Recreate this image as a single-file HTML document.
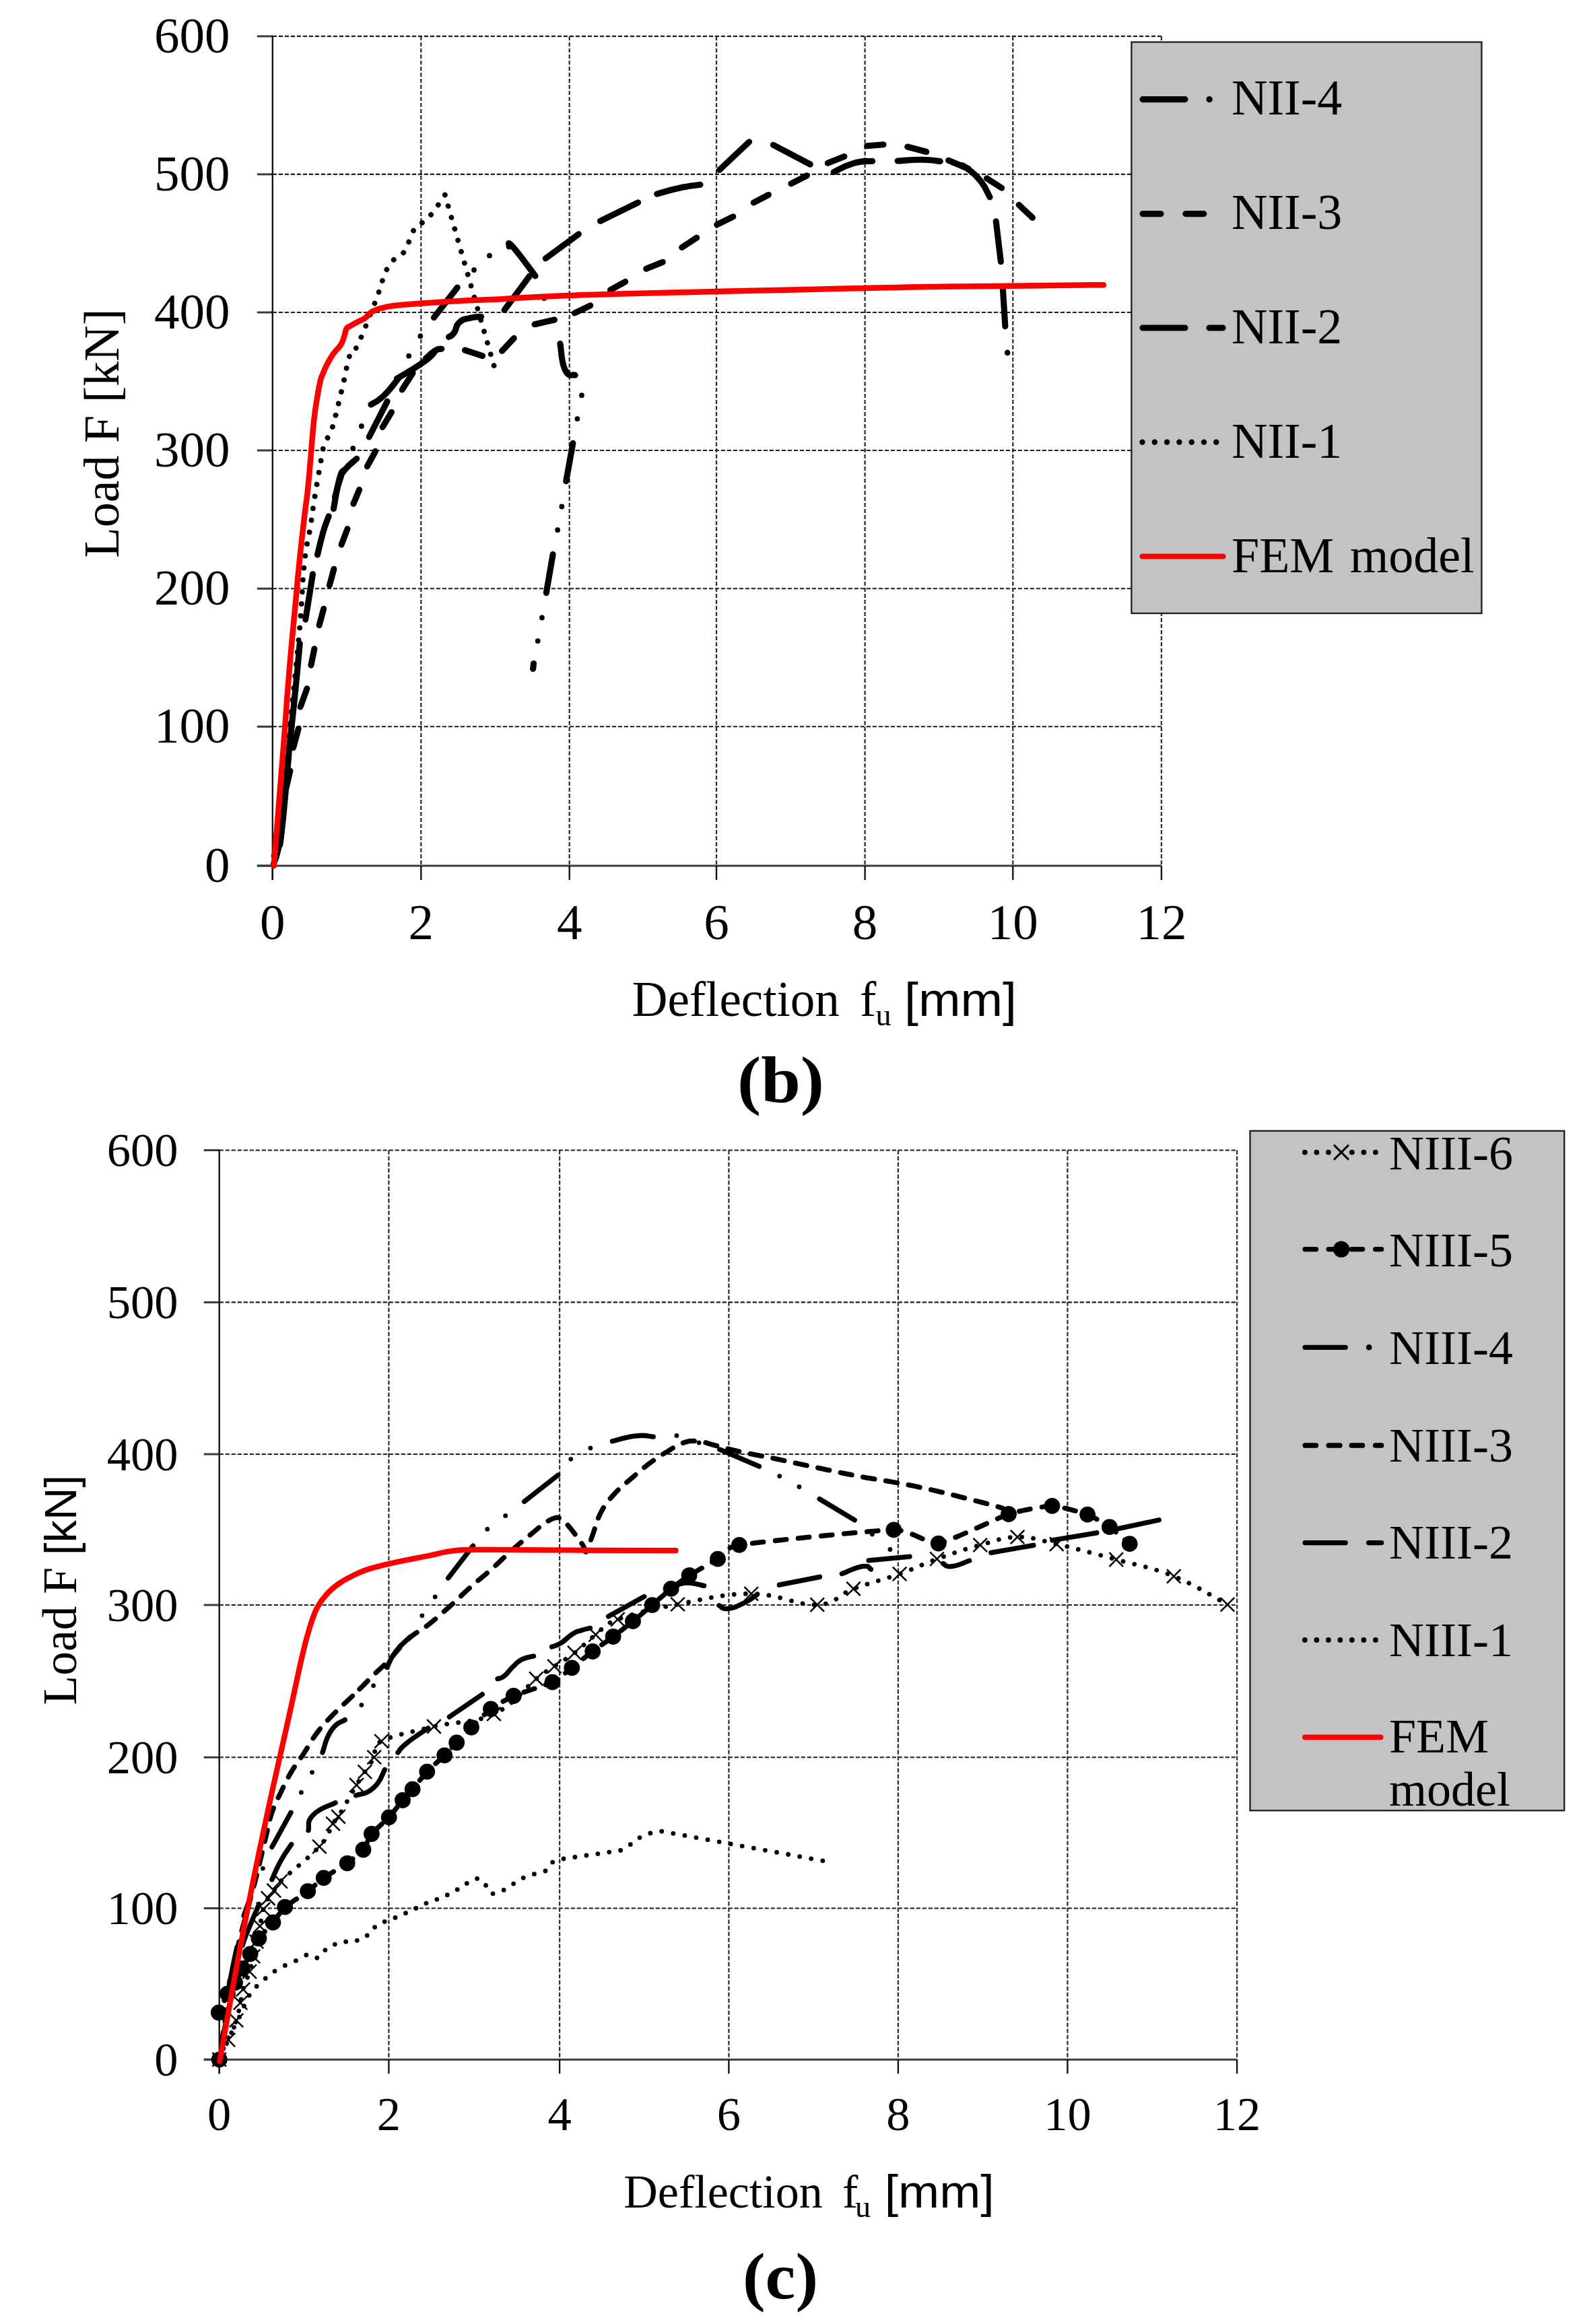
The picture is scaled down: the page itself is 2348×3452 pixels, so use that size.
<!DOCTYPE html>
<html lang="en">
<head>
<meta charset="utf-8">
<title>Load-deflection curves (b) NII and (c) NIII series</title>
<style>
html,body{margin:0;padding:0;background:#fff;}
body{width:2348px;height:3452px;overflow:hidden;}
svg{display:block;}
text{white-space:pre;}
</style>
</head>
<body>
<svg width="2348" height="3452" viewBox="0 0 2348 3452">
<rect x="0" y="0" width="2348" height="3452" fill="#ffffff"/>
<g id="chart-b">
<line x1="404.8" y1="53.9" x2="1724.9" y2="53.9" stroke="#1e1e1e" stroke-width="2.1" stroke-linecap="butt" stroke-dasharray="6.2 2.8"/>
<line x1="404.8" y1="258.9" x2="1724.9" y2="258.9" stroke="#1e1e1e" stroke-width="2.1" stroke-linecap="butt" stroke-dasharray="6.2 2.8"/>
<line x1="404.8" y1="464" x2="1724.9" y2="464" stroke="#1e1e1e" stroke-width="2.1" stroke-linecap="butt" stroke-dasharray="6.2 2.8"/>
<line x1="404.8" y1="669" x2="1724.9" y2="669" stroke="#1e1e1e" stroke-width="2.1" stroke-linecap="butt" stroke-dasharray="6.2 2.8"/>
<line x1="404.8" y1="874.3" x2="1724.9" y2="874.3" stroke="#1e1e1e" stroke-width="2.1" stroke-linecap="butt" stroke-dasharray="6.2 2.8"/>
<line x1="404.8" y1="1079.3" x2="1724.9" y2="1079.3" stroke="#1e1e1e" stroke-width="2.1" stroke-linecap="butt" stroke-dasharray="6.2 2.8"/>
<line x1="625.3" y1="53.9" x2="625.3" y2="1286" stroke="#303030" stroke-width="2.3" stroke-linecap="butt" stroke-dasharray="6.2 2.8"/>
<line x1="845.7" y1="53.9" x2="845.7" y2="1286" stroke="#303030" stroke-width="2.3" stroke-linecap="butt" stroke-dasharray="6.2 2.8"/>
<line x1="1064" y1="53.9" x2="1064" y2="1286" stroke="#303030" stroke-width="2.3" stroke-linecap="butt" stroke-dasharray="6.2 2.8"/>
<line x1="1284.6" y1="53.9" x2="1284.6" y2="1286" stroke="#303030" stroke-width="2.3" stroke-linecap="butt" stroke-dasharray="6.2 2.8"/>
<line x1="1504.3" y1="53.9" x2="1504.3" y2="1286" stroke="#303030" stroke-width="2.3" stroke-linecap="butt" stroke-dasharray="6.2 2.8"/>
<line x1="1724.9" y1="53.9" x2="1724.9" y2="1286" stroke="#303030" stroke-width="2.3" stroke-linecap="butt" stroke-dasharray="6.2 2.8"/>
<line x1="381.8" y1="53.9" x2="404.8" y2="53.9" stroke="#3a3a3a" stroke-width="3" stroke-linecap="butt"/>
<line x1="381.8" y1="258.9" x2="404.8" y2="258.9" stroke="#3a3a3a" stroke-width="3" stroke-linecap="butt"/>
<line x1="381.8" y1="464" x2="404.8" y2="464" stroke="#3a3a3a" stroke-width="3" stroke-linecap="butt"/>
<line x1="381.8" y1="669" x2="404.8" y2="669" stroke="#3a3a3a" stroke-width="3" stroke-linecap="butt"/>
<line x1="381.8" y1="874.3" x2="404.8" y2="874.3" stroke="#3a3a3a" stroke-width="3" stroke-linecap="butt"/>
<line x1="381.8" y1="1079.3" x2="404.8" y2="1079.3" stroke="#3a3a3a" stroke-width="3" stroke-linecap="butt"/>
<line x1="381.8" y1="1286" x2="404.8" y2="1286" stroke="#3a3a3a" stroke-width="3" stroke-linecap="butt"/>
<line x1="381.8" y1="1286" x2="1724.9" y2="1286" stroke="#3a3a3a" stroke-width="3" stroke-linecap="butt"/>
<line x1="404.8" y1="1286" x2="404.8" y2="1307" stroke="#111" stroke-width="2.4" stroke-linecap="butt"/>
<line x1="625.3" y1="1286" x2="625.3" y2="1307" stroke="#111" stroke-width="2.4" stroke-linecap="butt"/>
<line x1="845.7" y1="1286" x2="845.7" y2="1307" stroke="#111" stroke-width="2.4" stroke-linecap="butt"/>
<line x1="1064" y1="1286" x2="1064" y2="1307" stroke="#111" stroke-width="2.4" stroke-linecap="butt"/>
<line x1="1284.6" y1="1286" x2="1284.6" y2="1307" stroke="#111" stroke-width="2.4" stroke-linecap="butt"/>
<line x1="1504.3" y1="1286" x2="1504.3" y2="1307" stroke="#111" stroke-width="2.4" stroke-linecap="butt"/>
<line x1="1724.9" y1="1286" x2="1724.9" y2="1307" stroke="#111" stroke-width="2.4" stroke-linecap="butt"/>
<line x1="404.8" y1="52.9" x2="404.8" y2="1307" stroke="#111" stroke-width="2.4" stroke-linecap="butt"/>
<text x="341.5" y="77.5" font-family='"Liberation Serif", serif' font-size="75" font-weight="normal" text-anchor="end" fill="#000" >600</text>
<text x="341.5" y="282.5" font-family='"Liberation Serif", serif' font-size="75" font-weight="normal" text-anchor="end" fill="#000" >500</text>
<text x="341.5" y="487.6" font-family='"Liberation Serif", serif' font-size="75" font-weight="normal" text-anchor="end" fill="#000" >400</text>
<text x="341.5" y="692.6" font-family='"Liberation Serif", serif' font-size="75" font-weight="normal" text-anchor="end" fill="#000" >300</text>
<text x="341.5" y="897.9" font-family='"Liberation Serif", serif' font-size="75" font-weight="normal" text-anchor="end" fill="#000" >200</text>
<text x="341.5" y="1102.9" font-family='"Liberation Serif", serif' font-size="75" font-weight="normal" text-anchor="end" fill="#000" >100</text>
<text x="341.5" y="1309.6" font-family='"Liberation Serif", serif' font-size="75" font-weight="normal" text-anchor="end" fill="#000" >0</text>
<text x="404.8" y="1394.5" font-family='"Liberation Serif", serif' font-size="75" font-weight="normal" text-anchor="middle" fill="#000" >0</text>
<text x="625.3" y="1394.5" font-family='"Liberation Serif", serif' font-size="75" font-weight="normal" text-anchor="middle" fill="#000" >2</text>
<text x="845.7" y="1394.5" font-family='"Liberation Serif", serif' font-size="75" font-weight="normal" text-anchor="middle" fill="#000" >4</text>
<text x="1064" y="1394.5" font-family='"Liberation Serif", serif' font-size="75" font-weight="normal" text-anchor="middle" fill="#000" >6</text>
<text x="1284.6" y="1394.5" font-family='"Liberation Serif", serif' font-size="75" font-weight="normal" text-anchor="middle" fill="#000" >8</text>
<text x="1504.3" y="1394.5" font-family='"Liberation Serif", serif' font-size="75" font-weight="normal" text-anchor="middle" fill="#000" >10</text>
<text x="1724.9" y="1394.5" font-family='"Liberation Serif", serif' font-size="75" font-weight="normal" text-anchor="middle" fill="#000" >12</text>
<path d="M660.8 289.5 C656.8 295.2 647.5 309.8 640.9 318 C634.3 326.2 632.8 325.6 627.6 330.3 C622.4 335 620.1 333.1 614.7 341.7 C609.3 350.3 606.3 364.8 600.7 373.3 C595.1 381.8 591.6 379 586.5 384.1 C581.4 389.2 578.9 392.5 575.4 398.6 C571.9 404.7 572.3 404.7 568.8 414.4 C565.3 424.1 565.3 427.6 557.7 447.3 C550.1 467 538.4 497.4 530.9 513.1 C523.4 528.8 524.7 512.9 520.1 525.7 C515.5 538.5 513.1 556.5 508.1 577.3 C503.1 598.1 498.9 616 495.1 629.7 C491.3 643.4 491.9 639.6 489.1 645.9 C486.3 652.2 484 651.5 481.2 661.2 C478.4 670.9 477.9 677.3 474.9 694.5 C471.9 711.7 468.8 729.6 466 747.3 C463.2 765 463.8 765.1 461 782.8 C458.2 800.5 455.4 804.5 452.1 835.9 C448.8 867.3 448.9 890.8 444.5 939.6 C440.1 988.4 435.3 1031.9 430 1080 C424.7 1128.1 423 1138.8 418 1180 C413 1221.2 407.4 1264.8 404.8 1286" fill="none" stroke="#000" stroke-width="7.8" stroke-linecap="round" stroke-linejoin="round" stroke-dasharray="0.01 17.9" stroke-dashoffset="0"/>
<path d="M733.6 543.1 L660.8 289.5" fill="none" stroke="#000" stroke-width="7.8" stroke-linecap="round" stroke-linejoin="round" stroke-dasharray="0.01 17.6" stroke-dashoffset="0"/>
<path d="M413.3 1235.3 L418.7 1206.7" fill="none" stroke="#000" stroke-width="9.1" stroke-linecap="round" stroke-linejoin="round" />
<path d="M424.6 1171.9 L430.9 1145" fill="none" stroke="#000" stroke-width="9.1" stroke-linecap="round" stroke-linejoin="round" />
<path d="M435.6 1110.6 L443.2 1082.4" fill="none" stroke="#000" stroke-width="9.1" stroke-linecap="round" stroke-linejoin="round" />
<path d="M446.1 1050 L455.9 1022.9" fill="none" stroke="#000" stroke-width="9.1" stroke-linecap="round" stroke-linejoin="round" />
<path d="M461.9 988.1 L466.9 963.7" fill="none" stroke="#000" stroke-width="9.1" stroke-linecap="round" stroke-linejoin="round" />
<path d="M474.1 928.7 L480.7 904.2" fill="none" stroke="#000" stroke-width="9.1" stroke-linecap="round" stroke-linejoin="round" />
<path d="M489.3 869.6 L495.9 845.2" fill="none" stroke="#000" stroke-width="9.1" stroke-linecap="round" stroke-linejoin="round" />
<path d="M507.1 809 L516 785.6" fill="none" stroke="#000" stroke-width="9.1" stroke-linecap="round" stroke-linejoin="round" />
<path d="M524.9 748.3 L533.6 727.4" fill="none" stroke="#000" stroke-width="9.1" stroke-linecap="round" stroke-linejoin="round" />
<path d="M545.3 692.7 L557.6 670.4" fill="none" stroke="#000" stroke-width="9.1" stroke-linecap="round" stroke-linejoin="round" />
<path d="M568.1 634.5 L581.5 612.2" fill="none" stroke="#000" stroke-width="9.1" stroke-linecap="round" stroke-linejoin="round" />
<path d="M597.2 578.9 L613.1 554" fill="none" stroke="#000" stroke-width="9.1" stroke-linecap="round" stroke-linejoin="round" />
<path d="M632.2 532.8 C636.1 529.4 639.3 525.1 646 521 C652.7 516.9 653 519 655.8 518.2" fill="none" stroke="#000" stroke-width="9.1" stroke-linecap="round" stroke-linejoin="round" />
<path d="M690.5 520.1 L716.5 528.6" fill="none" stroke="#000" stroke-width="9.1" stroke-linecap="round" stroke-linejoin="round" />
<path d="M745.5 521.3 L763.3 502.4" fill="none" stroke="#000" stroke-width="9.1" stroke-linecap="round" stroke-linejoin="round" />
<path d="M794 481.8 L823.5 475" fill="none" stroke="#000" stroke-width="9.1" stroke-linecap="round" stroke-linejoin="round" />
<path d="M853.4 465 L876.8 453.8" fill="none" stroke="#000" stroke-width="9.1" stroke-linecap="round" stroke-linejoin="round" />
<path d="M906.4 430.8 L928.7 418.4" fill="none" stroke="#000" stroke-width="9.1" stroke-linecap="round" stroke-linejoin="round" />
<path d="M959.7 399.2 L984.3 389.3" fill="none" stroke="#000" stroke-width="9.1" stroke-linecap="round" stroke-linejoin="round" />
<path d="M1012.7 367.5 L1034.7 353.1" fill="none" stroke="#000" stroke-width="9.1" stroke-linecap="round" stroke-linejoin="round" />
<path d="M1064.8 333.7 L1088.8 321.8" fill="none" stroke="#000" stroke-width="9.1" stroke-linecap="round" stroke-linejoin="round" />
<path d="M1119.2 301 L1141.4 289.4" fill="none" stroke="#000" stroke-width="9.1" stroke-linecap="round" stroke-linejoin="round" />
<path d="M1174.9 272.7 L1198.3 260.9" fill="none" stroke="#000" stroke-width="9.1" stroke-linecap="round" stroke-linejoin="round" />
<path d="M1229.3 242.2 L1253.9 232.4" fill="none" stroke="#000" stroke-width="9.1" stroke-linecap="round" stroke-linejoin="round" />
<path d="M1287.6 216.8 L1312 214.7" fill="none" stroke="#000" stroke-width="9.1" stroke-linecap="round" stroke-linejoin="round" />
<path d="M1347.7 218 L1375.8 225.5" fill="none" stroke="#000" stroke-width="9.1" stroke-linecap="round" stroke-linejoin="round" />
<path d="M1408.6 238.2 L1438.4 250.8" fill="none" stroke="#000" stroke-width="9.1" stroke-linecap="round" stroke-linejoin="round" />
<path d="M1465.4 264.9 L1487.7 279.3" fill="none" stroke="#000" stroke-width="9.1" stroke-linecap="round" stroke-linejoin="round" />
<path d="M1513.2 304.3 L1533.4 323.4" fill="none" stroke="#000" stroke-width="9.1" stroke-linecap="round" stroke-linejoin="round" />
<path d="M406.5 1283 C408.3 1277 409.5 1277.3 413 1262 C416.5 1246.7 414.3 1271 419 1229 C423.7 1187 426.5 1146.3 429.5 1113.6" fill="none" stroke="#000" stroke-width="9.1" stroke-linecap="round" stroke-linejoin="round" />
<path d="M430 1108 C431.7 1092 432.8 1082.2 436 1051.6 C439.2 1021 438.6 1027.1 441.2 1000 C443.8 972.9 444.1 968.5 445.2 956" fill="none" stroke="#000" stroke-width="9.1" stroke-linecap="round" stroke-linejoin="round" />
<path d="M453.7 920.2 L464.5 852.8" fill="none" stroke="#000" stroke-width="9.1" stroke-linecap="round" stroke-linejoin="round" />
<path d="M471.5 824.1 C473.9 814.6 475.2 806.6 479.9 790.4 C484.6 774.2 485.9 773.5 488.2 766.8" fill="none" stroke="#000" stroke-width="9.1" stroke-linecap="round" stroke-linejoin="round" />
<path d="M497.5 738.3 C499.6 730.9 500.9 723.4 505 712 C509.1 700.6 505 706.7 512 698 C519 689.3 524.7 686 529.7 681.2" fill="none" stroke="#000" stroke-width="9.1" stroke-linecap="round" stroke-linejoin="round" />
<path d="M548.2 649 L575.1 596.2" fill="none" stroke="#000" stroke-width="9.1" stroke-linecap="round" stroke-linejoin="round" />
<path d="M589.5 562.1 C594.7 559.1 595.6 559.1 607.9 551.4 C620.2 543.7 622.3 542.8 632.8 535 C643.3 527.2 641.4 526.9 644.8 523.7" fill="none" stroke="#000" stroke-width="9.1" stroke-linecap="round" stroke-linejoin="round" />
<path d="M666.5 500.5 C668.8 498.7 670.1 500.2 674.6 494 C679.1 487.8 675.2 485 682.2 478.8 C689.2 472.6 690.1 474.6 699.3 472.2 C708.5 469.8 710.2 471 714.6 470.5" fill="none" stroke="#000" stroke-width="9.1" stroke-linecap="round" stroke-linejoin="round" />
<path d="M749.1 460.5 L786.3 410.2" fill="none" stroke="#000" stroke-width="9.1" stroke-linecap="round" stroke-linejoin="round" />
<path d="M810.2 383.8 L859.3 347.8" fill="none" stroke="#000" stroke-width="9.1" stroke-linecap="round" stroke-linejoin="round" />
<path d="M891.4 328.3 L947.6 300.8" fill="none" stroke="#000" stroke-width="9.1" stroke-linecap="round" stroke-linejoin="round" />
<path d="M975.7 288.1 C985.4 285.5 991.8 282.9 1010 279 C1028.2 275.1 1031.5 275.6 1040 274.3" fill="none" stroke="#000" stroke-width="9.1" stroke-linecap="round" stroke-linejoin="round" />
<path d="M1068.3 252.5 L1112.6 210.7" fill="none" stroke="#000" stroke-width="9.1" stroke-linecap="round" stroke-linejoin="round" />
<path d="M1148.3 215.3 L1203.3 244.1" fill="none" stroke="#000" stroke-width="9.1" stroke-linecap="round" stroke-linejoin="round" />
<path d="M1238.2 255.6 C1246.7 251.8 1251.9 246.9 1268.2 242.3 C1284.5 237.7 1287.8 240.1 1295.6 239.3" fill="none" stroke="#000" stroke-width="9.1" stroke-linecap="round" stroke-linejoin="round" />
<path d="M1333.1 239 C1343.4 238.5 1351.5 237.1 1369.4 237.3 C1387.3 237.5 1388.6 239 1396.3 239.6" fill="none" stroke="#000" stroke-width="9.1" stroke-linecap="round" stroke-linejoin="round" />
<path d="M1426.1 245.2 C1428.9 246.6 1427.4 243.2 1436 249.9 C1444.6 256.6 1446.7 256.8 1456.3 268.9 C1465.9 281 1466.1 285.9 1470 292.7" fill="none" stroke="#000" stroke-width="9.1" stroke-linecap="round" stroke-linejoin="round" />
<path d="M1479.2 328.8 L1486.4 388.7" fill="none" stroke="#000" stroke-width="9.1" stroke-linecap="round" stroke-linejoin="round" />
<path d="M1489.3 427.5 L1492.9 484.8" fill="none" stroke="#000" stroke-width="9.1" stroke-linecap="round" stroke-linejoin="round" />
<circle cx="1496.2" cy="523.9" r="4.3" fill="#000"/>
<path d="M495.4 755.8 C497.9 743.3 499.6 728.2 504 711.9 C508.4 695.6 508.9 702.1 510.8 698.3" fill="none" stroke="#000" stroke-width="9.1" stroke-linecap="round" stroke-linejoin="round" />
<path d="M550.9 600.9 C556.4 597.1 558.6 598.6 570.2 587.5 C581.8 576.4 585.7 569 591.9 561.7" fill="none" stroke="#000" stroke-width="9.1" stroke-linecap="round" stroke-linejoin="round" />
<path d="M644.4 471.7 L679.2 427.1" fill="none" stroke="#000" stroke-width="9.1" stroke-linecap="round" stroke-linejoin="round" />
<path d="M756.1 366.1 C757.8 366.3 751 354.6 762 367 C773 379.4 785.7 397.8 795 409.9" fill="none" stroke="#000" stroke-width="9.1" stroke-linecap="round" stroke-linejoin="round" />
<path d="M831.9 510.4 C834 521.4 832.9 535.9 839.2 549.2 C845.5 562.5 849.9 555 854.1 557.3" fill="none" stroke="#000" stroke-width="9.1" stroke-linecap="round" stroke-linejoin="round" />
<path d="M850.9 658.3 L840.7 714.7" fill="none" stroke="#000" stroke-width="9.1" stroke-linecap="round" stroke-linejoin="round" />
<path d="M821.1 823.4 L811.3 880.7" fill="none" stroke="#000" stroke-width="9.1" stroke-linecap="round" stroke-linejoin="round" />
<circle cx="524.2" cy="665.9" r="3.9" fill="#000"/>
<circle cx="536.9" cy="633" r="3.9" fill="#000"/>
<circle cx="607.2" cy="528.7" r="3.9" fill="#000"/>
<circle cx="624.3" cy="499.3" r="3.9" fill="#000"/>
<circle cx="704" cy="401" r="3.9" fill="#000"/>
<circle cx="727" cy="379.7" r="3.9" fill="#000"/>
<circle cx="808" cy="443" r="3.9" fill="#000"/>
<circle cx="820" cy="476" r="3.9" fill="#000"/>
<circle cx="863.9" cy="587.2" r="3.9" fill="#000"/>
<circle cx="857.4" cy="622.1" r="3.9" fill="#000"/>
<circle cx="834.3" cy="752.5" r="3.9" fill="#000"/>
<circle cx="828.1" cy="787.2" r="3.9" fill="#000"/>
<circle cx="804.9" cy="917.5" r="3.9" fill="#000"/>
<circle cx="798.7" cy="952.1" r="3.9" fill="#000"/>
<path d="M792.6 985.5 L791.6 993.5" fill="none" stroke="#000" stroke-width="9.1" stroke-linecap="round" stroke-linejoin="round" />
<path d="M406.8 1286 C410.8 1236.4 415.7 1176.3 421.7 1100 C427.7 1023.7 424.8 1053.3 429.3 1000 C433.8 946.7 434.2 945.8 438.5 900 C442.8 854.2 441.4 865.6 445.3 828.3 C449.2 791 449.9 786.2 453 760 C456.1 733.8 454.7 749.1 456.8 730 C458.9 710.9 458.8 709.7 460.7 688.2 C462.6 666.7 462.2 668.4 463.9 649.5 C465.6 630.6 465.2 632.7 467.1 617.2 C469 601.7 468.8 604.8 471 591.4 C473.2 578 473.1 576.9 475.5 566.9 C477.9 556.9 477.4 560.6 480 554 C482.6 547.4 482.1 548.5 485.2 542.3 C488.3 536.1 488.2 536.2 491.6 530.7 C495 525.2 494.3 526.5 498.1 521.7 C501.9 516.9 502.5 517.8 505.8 512.6 C509.1 507.4 508.3 508.1 510.4 502.3 C512.5 496.5 512.1 494.9 513.6 490.7 C515.1 486.5 514.3 488.2 516 486.5 C517.7 484.8 516.3 486.4 520.1 484.2 C523.9 482 524.6 481.5 530.4 478.4 C536.2 475.3 536.9 476.2 542 472.6 C547.1 469 545.2 468.2 549.7 464.9 C554.2 461.6 553.6 462.4 558.8 460.3 C564 458.2 562.9 458.6 569.1 457.1 C575.3 455.6 573.4 455.7 582 454.5 C590.6 453.3 590 453.6 601.4 452.6 C612.8 451.6 601 452.3 624.6 450.7 C648.2 449.1 662.3 448 689.8 446.5 C717.3 445 698.5 446.6 727.9 445.1 C757.3 443.6 759.4 442.9 800 441 C840.6 439.1 826.7 439.5 880 437.8 C933.3 436.1 914.7 436.7 1000 434.6 C1085.3 432.5 1093.3 432.3 1200 430 C1306.7 427.7 1282.9 427.6 1400 425.8 C1517.1 424 1575.3 423.9 1639 423.2" fill="none" stroke="#fe0000" stroke-width="8.5" stroke-linecap="round" stroke-linejoin="round"/>
<rect x="1680.4" y="62.5" width="520" height="848.5" fill="#c3c3c3" stroke="#1c1c1c" stroke-width="2.3"/>
<path d="M1697 147.6 L1760 147.6" fill="none" stroke="#000" stroke-width="9.1" stroke-linecap="round" stroke-linejoin="round" />
<circle cx="1796.1" cy="147.6" r="4.7" fill="#000"/>
<path d="M1697 317.6 L1724 317.6" fill="none" stroke="#000" stroke-width="9.1" stroke-linecap="round" stroke-linejoin="round" />
<path d="M1760.8 317.6 L1787.8 317.6" fill="none" stroke="#000" stroke-width="9.1" stroke-linecap="round" stroke-linejoin="round" />
<path d="M1697 487 L1760 487" fill="none" stroke="#000" stroke-width="9.1" stroke-linecap="round" stroke-linejoin="round" />
<path d="M1796 487 L1816 487" fill="none" stroke="#000" stroke-width="9.1" stroke-linecap="round" stroke-linejoin="round" />
<circle cx="1696.5" cy="656.7" r="4.2" fill="#000"/>
<circle cx="1714.8" cy="656.7" r="4.2" fill="#000"/>
<circle cx="1733.1" cy="656.7" r="4.2" fill="#000"/>
<circle cx="1751.4" cy="656.7" r="4.2" fill="#000"/>
<circle cx="1769.7" cy="656.7" r="4.2" fill="#000"/>
<circle cx="1788" cy="656.7" r="4.2" fill="#000"/>
<circle cx="1806.3" cy="656.7" r="4.2" fill="#000"/>
<path d="M1696.5 826.5 L1816.5 826.5" fill="none" stroke="#fe0000" stroke-width="8" stroke-linecap="round" stroke-linejoin="round" />
<text x="1829" y="170" font-family='"Liberation Serif", serif' font-size="74" font-weight="normal" text-anchor="start" fill="#000" word-spacing="5">NII-4</text>
<text x="1829" y="339.8" font-family='"Liberation Serif", serif' font-size="74" font-weight="normal" text-anchor="start" fill="#000" word-spacing="5">NII-3</text>
<text x="1829" y="510" font-family='"Liberation Serif", serif' font-size="74" font-weight="normal" text-anchor="start" fill="#000" word-spacing="5">NII-2</text>
<text x="1829" y="680" font-family='"Liberation Serif", serif' font-size="74" font-weight="normal" text-anchor="start" fill="#000" word-spacing="5">NII-1</text>
<text x="1829" y="850" font-family='"Liberation Serif", serif' font-size="74" font-weight="normal" text-anchor="start" fill="#000" word-spacing="5">FEM model</text>
<text transform="translate(176,828.5) rotate(-90)" font-family='"Liberation Serif", serif' font-size="74" fill="#000">Load F [kN]</text>
<text x="938.7" y="1508.6" font-family='"Liberation Serif", serif' font-size="73" font-weight="normal" text-anchor="start" fill="#000" >Deflection</text>
<text x="1277" y="1508.6" font-family='"Liberation Serif", serif' font-size="73" font-weight="normal" text-anchor="start" fill="#000" >f</text>
<text x="1300.5" y="1522.6" font-family='"Liberation Serif", serif' font-size="46" font-weight="normal" text-anchor="start" fill="#000" >u</text>
<text x="1343" y="1508.6" font-family='"Liberation Sans", sans-serif' font-size="71" font-weight="normal" text-anchor="start" fill="#000" textLength="167" lengthAdjust="spacingAndGlyphs">[mm]</text>
<text x="1095" y="1637" font-family='"Liberation Serif", serif' font-size="98" font-weight="bold" text-anchor="start" fill="#000" textLength="129" lengthAdjust="spacingAndGlyphs">(b)</text>
</g>
<g id="chart-c">
<line x1="325.7" y1="1708.5" x2="1837.1" y2="1708.5" stroke="#1e1e1e" stroke-width="2.1" stroke-linecap="butt" stroke-dasharray="6.2 2.8"/>
<line x1="325.7" y1="1934.4" x2="1837.1" y2="1934.4" stroke="#1e1e1e" stroke-width="2.1" stroke-linecap="butt" stroke-dasharray="6.2 2.8"/>
<line x1="325.7" y1="2160" x2="1837.1" y2="2160" stroke="#1e1e1e" stroke-width="2.1" stroke-linecap="butt" stroke-dasharray="6.2 2.8"/>
<line x1="325.7" y1="2384" x2="1837.1" y2="2384" stroke="#1e1e1e" stroke-width="2.1" stroke-linecap="butt" stroke-dasharray="6.2 2.8"/>
<line x1="325.7" y1="2610.3" x2="1837.1" y2="2610.3" stroke="#1e1e1e" stroke-width="2.1" stroke-linecap="butt" stroke-dasharray="6.2 2.8"/>
<line x1="325.7" y1="2834.5" x2="1837.1" y2="2834.5" stroke="#1e1e1e" stroke-width="2.1" stroke-linecap="butt" stroke-dasharray="6.2 2.8"/>
<line x1="577.4" y1="1708.5" x2="577.4" y2="3059.2" stroke="#303030" stroke-width="2.3" stroke-linecap="butt" stroke-dasharray="6.2 2.8"/>
<line x1="831.1" y1="1708.5" x2="831.1" y2="3059.2" stroke="#303030" stroke-width="2.3" stroke-linecap="butt" stroke-dasharray="6.2 2.8"/>
<line x1="1082.4" y1="1708.5" x2="1082.4" y2="3059.2" stroke="#303030" stroke-width="2.3" stroke-linecap="butt" stroke-dasharray="6.2 2.8"/>
<line x1="1333.9" y1="1708.5" x2="1333.9" y2="3059.2" stroke="#303030" stroke-width="2.3" stroke-linecap="butt" stroke-dasharray="6.2 2.8"/>
<line x1="1585.4" y1="1708.5" x2="1585.4" y2="3059.2" stroke="#303030" stroke-width="2.3" stroke-linecap="butt" stroke-dasharray="6.2 2.8"/>
<line x1="1837.1" y1="1708.5" x2="1837.1" y2="3059.2" stroke="#303030" stroke-width="2.3" stroke-linecap="butt" stroke-dasharray="6.2 2.8"/>
<line x1="302.7" y1="1708.5" x2="325.7" y2="1708.5" stroke="#3a3a3a" stroke-width="3" stroke-linecap="butt"/>
<line x1="302.7" y1="1934.4" x2="325.7" y2="1934.4" stroke="#3a3a3a" stroke-width="3" stroke-linecap="butt"/>
<line x1="302.7" y1="2160" x2="325.7" y2="2160" stroke="#3a3a3a" stroke-width="3" stroke-linecap="butt"/>
<line x1="302.7" y1="2384" x2="325.7" y2="2384" stroke="#3a3a3a" stroke-width="3" stroke-linecap="butt"/>
<line x1="302.7" y1="2610.3" x2="325.7" y2="2610.3" stroke="#3a3a3a" stroke-width="3" stroke-linecap="butt"/>
<line x1="302.7" y1="2834.5" x2="325.7" y2="2834.5" stroke="#3a3a3a" stroke-width="3" stroke-linecap="butt"/>
<line x1="302.7" y1="3059.2" x2="325.7" y2="3059.2" stroke="#3a3a3a" stroke-width="3" stroke-linecap="butt"/>
<line x1="302.7" y1="3059.2" x2="1837.1" y2="3059.2" stroke="#3a3a3a" stroke-width="3" stroke-linecap="butt"/>
<line x1="325.7" y1="3059.2" x2="325.7" y2="3080.2" stroke="#111" stroke-width="2.4" stroke-linecap="butt"/>
<line x1="577.4" y1="3059.2" x2="577.4" y2="3080.2" stroke="#111" stroke-width="2.4" stroke-linecap="butt"/>
<line x1="831.1" y1="3059.2" x2="831.1" y2="3080.2" stroke="#111" stroke-width="2.4" stroke-linecap="butt"/>
<line x1="1082.4" y1="3059.2" x2="1082.4" y2="3080.2" stroke="#111" stroke-width="2.4" stroke-linecap="butt"/>
<line x1="1333.9" y1="3059.2" x2="1333.9" y2="3080.2" stroke="#111" stroke-width="2.4" stroke-linecap="butt"/>
<line x1="1585.4" y1="3059.2" x2="1585.4" y2="3080.2" stroke="#111" stroke-width="2.4" stroke-linecap="butt"/>
<line x1="1837.1" y1="3059.2" x2="1837.1" y2="3080.2" stroke="#111" stroke-width="2.4" stroke-linecap="butt"/>
<line x1="325.7" y1="1707.5" x2="325.7" y2="3080.2" stroke="#111" stroke-width="2.4" stroke-linecap="butt"/>
<text x="264.5" y="1732.1" font-family='"Liberation Serif", serif' font-size="70.5" font-weight="normal" text-anchor="end" fill="#000" >600</text>
<text x="264.5" y="1958" font-family='"Liberation Serif", serif' font-size="70.5" font-weight="normal" text-anchor="end" fill="#000" >500</text>
<text x="264.5" y="2183.6" font-family='"Liberation Serif", serif' font-size="70.5" font-weight="normal" text-anchor="end" fill="#000" >400</text>
<text x="264.5" y="2407.6" font-family='"Liberation Serif", serif' font-size="70.5" font-weight="normal" text-anchor="end" fill="#000" >300</text>
<text x="264.5" y="2633.9" font-family='"Liberation Serif", serif' font-size="70.5" font-weight="normal" text-anchor="end" fill="#000" >200</text>
<text x="264.5" y="2858.1" font-family='"Liberation Serif", serif' font-size="70.5" font-weight="normal" text-anchor="end" fill="#000" >100</text>
<text x="264.5" y="3082.8" font-family='"Liberation Serif", serif' font-size="70.5" font-weight="normal" text-anchor="end" fill="#000" >0</text>
<text x="325.7" y="3164.3" font-family='"Liberation Serif", serif' font-size="70.5" font-weight="normal" text-anchor="middle" fill="#000" >0</text>
<text x="577.4" y="3164.3" font-family='"Liberation Serif", serif' font-size="70.5" font-weight="normal" text-anchor="middle" fill="#000" >2</text>
<text x="831.1" y="3164.3" font-family='"Liberation Serif", serif' font-size="70.5" font-weight="normal" text-anchor="middle" fill="#000" >4</text>
<text x="1082.4" y="3164.3" font-family='"Liberation Serif", serif' font-size="70.5" font-weight="normal" text-anchor="middle" fill="#000" >6</text>
<text x="1333.9" y="3164.3" font-family='"Liberation Serif", serif' font-size="70.5" font-weight="normal" text-anchor="middle" fill="#000" >8</text>
<text x="1585.4" y="3164.3" font-family='"Liberation Serif", serif' font-size="70.5" font-weight="normal" text-anchor="middle" fill="#000" >10</text>
<text x="1837.1" y="3164.3" font-family='"Liberation Serif", serif' font-size="70.5" font-weight="normal" text-anchor="middle" fill="#000" >12</text>
<circle cx="325.7" cy="3059.2" r="3.4" fill="#000"/>
<circle cx="332" cy="3042.8" r="3.4" fill="#000"/>
<circle cx="338.9" cy="3026.7" r="3.4" fill="#000"/>
<circle cx="347.4" cy="3011.3" r="3.4" fill="#000"/>
<circle cx="355.6" cy="2995.9" r="3.4" fill="#000"/>
<circle cx="362.4" cy="2979.7" r="3.4" fill="#000"/>
<circle cx="370.1" cy="2963.9" r="3.4" fill="#000"/>
<circle cx="381.1" cy="2950.4" r="3.4" fill="#000"/>
<circle cx="394.2" cy="2938.7" r="3.4" fill="#000"/>
<circle cx="408" cy="2927.9" r="3.4" fill="#000"/>
<circle cx="423.3" cy="2919.4" r="3.4" fill="#000"/>
<circle cx="439.4" cy="2912.4" r="3.4" fill="#000"/>
<circle cx="454.8" cy="2903.9" r="3.4" fill="#000"/>
<circle cx="470.8" cy="2908.2" r="3.4" fill="#000"/>
<circle cx="482.9" cy="2896.6" r="3.4" fill="#000"/>
<circle cx="497.3" cy="2888.1" r="3.4" fill="#000"/>
<circle cx="513.7" cy="2884.2" r="3.4" fill="#000"/>
<circle cx="530.3" cy="2882.3" r="3.4" fill="#000"/>
<circle cx="545.2" cy="2874.9" r="3.4" fill="#000"/>
<circle cx="556.6" cy="2862.6" r="3.4" fill="#000"/>
<circle cx="571.2" cy="2854.3" r="3.4" fill="#000"/>
<circle cx="587" cy="2848.4" r="3.4" fill="#000"/>
<circle cx="602.5" cy="2841.7" r="3.4" fill="#000"/>
<circle cx="617.8" cy="2834.5" r="3.4" fill="#000"/>
<circle cx="633" cy="2827.1" r="3.4" fill="#000"/>
<circle cx="648.8" cy="2821.3" r="3.4" fill="#000"/>
<circle cx="664.3" cy="2814.7" r="3.4" fill="#000"/>
<circle cx="679.2" cy="2806.7" r="3.4" fill="#000"/>
<circle cx="693.3" cy="2797.5" r="3.4" fill="#000"/>
<circle cx="708.6" cy="2790.4" r="3.4" fill="#000"/>
<circle cx="721.5" cy="2800.4" r="3.4" fill="#000"/>
<circle cx="732" cy="2812.8" r="3.4" fill="#000"/>
<circle cx="748.2" cy="2807.4" r="3.4" fill="#000"/>
<circle cx="762.6" cy="2798.1" r="3.4" fill="#000"/>
<circle cx="777.2" cy="2789.3" r="3.4" fill="#000"/>
<circle cx="793.4" cy="2783.7" r="3.4" fill="#000"/>
<circle cx="809.9" cy="2779" r="3.4" fill="#000"/>
<circle cx="820.7" cy="2766.1" r="3.4" fill="#000"/>
<circle cx="837" cy="2761" r="3.4" fill="#000"/>
<circle cx="853.9" cy="2758.5" r="3.4" fill="#000"/>
<circle cx="870.9" cy="2756" r="3.4" fill="#000"/>
<circle cx="887.8" cy="2753.6" r="3.4" fill="#000"/>
<circle cx="904.7" cy="2751.1" r="3.4" fill="#000"/>
<circle cx="921.6" cy="2748.5" r="3.4" fill="#000"/>
<circle cx="936.3" cy="2739.7" r="3.4" fill="#000"/>
<circle cx="950" cy="2729.6" r="3.4" fill="#000"/>
<circle cx="965.8" cy="2722.9" r="3.4" fill="#000"/>
<circle cx="982.7" cy="2720.2" r="3.4" fill="#000"/>
<circle cx="999.8" cy="2723.3" r="3.4" fill="#000"/>
<circle cx="1016.9" cy="2726.4" r="3.4" fill="#000"/>
<circle cx="1033.9" cy="2729.6" r="3.4" fill="#000"/>
<circle cx="1051" cy="2732.7" r="3.4" fill="#000"/>
<circle cx="1068.1" cy="2735.8" r="3.4" fill="#000"/>
<circle cx="1085.2" cy="2738.9" r="3.4" fill="#000"/>
<circle cx="1102.2" cy="2742.1" r="3.4" fill="#000"/>
<circle cx="1119.3" cy="2745.2" r="3.4" fill="#000"/>
<circle cx="1136.4" cy="2748.3" r="3.4" fill="#000"/>
<circle cx="1153.5" cy="2751.4" r="3.4" fill="#000"/>
<circle cx="1170.6" cy="2754.5" r="3.4" fill="#000"/>
<circle cx="1187.6" cy="2757.7" r="3.4" fill="#000"/>
<circle cx="1204.7" cy="2760.8" r="3.4" fill="#000"/>
<circle cx="1221.8" cy="2763.9" r="3.4" fill="#000"/>
<polyline points="326.2,3055.6 326.5,3053.7 326.6,3052.7" fill="none" stroke="#000" stroke-width="7.3" stroke-linecap="round" stroke-linejoin="round"/>
<polyline points="329.1,3036 329.6,3032.1 330.8,3023.7 331.5,3018.9" fill="none" stroke="#000" stroke-width="7.3" stroke-linecap="round" stroke-linejoin="round"/>
<polyline points="334,3002.2 334.8,2996.3 336.3,2986.9 336.5,2985.1" fill="none" stroke="#000" stroke-width="7.3" stroke-linecap="round" stroke-linejoin="round"/>
<polyline points="339.1,2968.4 340.5,2960 341.8,2952 342,2951.3" fill="none" stroke="#000" stroke-width="7.3" stroke-linecap="round" stroke-linejoin="round"/>
<polyline points="344.9,2934.6 345.3,2931.9 346.4,2926.2 347.4,2920.9 348,2917.6" fill="none" stroke="#000" stroke-width="7.3" stroke-linecap="round" stroke-linejoin="round"/>
<polyline points="351.4,2901.1 352.4,2896.2 353.5,2891 354.5,2886.1 355,2884.2" fill="none" stroke="#000" stroke-width="7.3" stroke-linecap="round" stroke-linejoin="round"/>
<polyline points="359,2867.7 359.2,2867.1 359.9,2864.4 360.8,2861.3 361.8,2857.6 363,2853 363.5,2851" fill="none" stroke="#000" stroke-width="7.3" stroke-linecap="round" stroke-linejoin="round"/>
<polyline points="367.9,2834.7 368.3,2833.3 369.7,2828.4 371.1,2823.4 372.5,2818.3 372.5,2818.1" fill="none" stroke="#000" stroke-width="7.3" stroke-linecap="round" stroke-linejoin="round"/>
<polyline points="376.9,2801.7 378.4,2796.2 380,2790 381.3,2785" fill="none" stroke="#000" stroke-width="7.3" stroke-linecap="round" stroke-linejoin="round"/>
<polyline points="385.3,2768.6 385.7,2766.8 387,2761.4 388.2,2756.3 389.3,2751.8" fill="none" stroke="#000" stroke-width="7.3" stroke-linecap="round" stroke-linejoin="round"/>
<polyline points="393.2,2735.3 394,2731.7 395.2,2726.9 396.3,2722.4 397.2,2718.5 397.2,2718.5" fill="none" stroke="#000" stroke-width="7.3" stroke-linecap="round" stroke-linejoin="round"/>
<polyline points="400.9,2702 401.2,2700.8 401.9,2698.5 402.7,2695.8 403.7,2692.8 404.8,2689.7 405.8,2686.9 406.3,2685.6" fill="none" stroke="#000" stroke-width="7.3" stroke-linecap="round" stroke-linejoin="round"/>
<polyline points="413.2,2670.2 414.3,2668 415.6,2665.3 417,2662.4 418.4,2659.4 419.8,2656.6 420.7,2654.6" fill="none" stroke="#000" stroke-width="7.3" stroke-linecap="round" stroke-linejoin="round"/>
<polyline points="428.3,2639.5 428.5,2639.1 429.9,2636.6 431.5,2633.9 433.1,2631.1 434.8,2628.4 436.3,2625.9 437.2,2624.6" fill="none" stroke="#000" stroke-width="7.3" stroke-linecap="round" stroke-linejoin="round"/>
<polyline points="446.9,2610.8 447.8,2609.5 449.5,2607.1 451.2,2604.5 452.9,2601.8 454.5,2599.3 455.9,2597 456.3,2596.3" fill="none" stroke="#000" stroke-width="7.3" stroke-linecap="round" stroke-linejoin="round"/>
<polyline points="465.1,2581.9 465.5,2581.3 467.3,2578.8 469.2,2576.1 471.1,2573.5 472.9,2571.2 474.6,2569 475.4,2567.9" fill="none" stroke="#000" stroke-width="7.3" stroke-linecap="round" stroke-linejoin="round"/>
<polyline points="486.5,2555.2 486.8,2555 489.2,2552.4 492,2549.5 494.9,2546.5 497.9,2543.6 498.6,2542.8" fill="none" stroke="#000" stroke-width="7.3" stroke-linecap="round" stroke-linejoin="round"/>
<polyline points="510.8,2531.2 512.5,2529.6 515.5,2526.8 518.6,2523.9 521.6,2521 523.4,2519.3" fill="none" stroke="#000" stroke-width="7.3" stroke-linecap="round" stroke-linejoin="round"/>
<polyline points="534,2509 536.6,2506.4 539,2504 541.3,2501.6 543.5,2499.4 545.7,2497.2 546.2,2496.7" fill="none" stroke="#000" stroke-width="7.3" stroke-linecap="round" stroke-linejoin="round"/>
<polyline points="558.1,2484.8 559.1,2483.9 561.1,2482 562.9,2480.3 564.4,2478.9 565.9,2477.6 567.3,2476.3 568.6,2475.1 570.1,2473.7 570.8,2473" fill="none" stroke="#000" stroke-width="7.3" stroke-linecap="round" stroke-linejoin="round"/>
<polyline points="582.5,2460.8 584.4,2458.6 586.5,2456 588.7,2453.4 590.8,2450.9 593,2448.3 593.6,2447.5" fill="none" stroke="#000" stroke-width="7.3" stroke-linecap="round" stroke-linejoin="round"/>
<polyline points="605.3,2435.4 605.5,2435.2 608.3,2432.7 611,2430.6 613.6,2428.6 616,2426.9 618.4,2425.3 619.1,2424.9" fill="none" stroke="#000" stroke-width="7.3" stroke-linecap="round" stroke-linejoin="round"/>
<polyline points="633.2,2415.6 633.5,2415.4 636.5,2413.1 639.5,2410.7 642.2,2408.5 644.8,2406.4 646.7,2404.8" fill="none" stroke="#000" stroke-width="7.3" stroke-linecap="round" stroke-linejoin="round"/>
<polyline points="659.4,2393.7 661.8,2391.6 664.5,2389.2 667.5,2386.5 670.5,2383.8 672.3,2382.2" fill="none" stroke="#000" stroke-width="7.3" stroke-linecap="round" stroke-linejoin="round"/>
<polyline points="684.6,2370.6 685.3,2369.9 687.7,2367.6 690.2,2365.3 692.8,2362.9 695.5,2360.4 697.3,2358.8" fill="none" stroke="#000" stroke-width="7.3" stroke-linecap="round" stroke-linejoin="round"/>
<polyline points="710,2347.7 711.7,2346.4 714,2344.4 716.3,2342.5 718.7,2340.5 721.2,2338.5 723.3,2336.6" fill="none" stroke="#000" stroke-width="7.3" stroke-linecap="round" stroke-linejoin="round"/>
<polyline points="735.9,2325.4 738,2323.5 740.5,2321.1 742.9,2318.8 745.3,2316.5 747.7,2314.2 748.5,2313.5" fill="none" stroke="#000" stroke-width="7.3" stroke-linecap="round" stroke-linejoin="round"/>
<polyline points="760.9,2302 763.3,2300 765.8,2297.8 768.1,2295.8 770.3,2293.9 772.4,2292.1 774,2290.8" fill="none" stroke="#000" stroke-width="7.3" stroke-linecap="round" stroke-linejoin="round"/>
<polyline points="787.1,2280.1 789.3,2278.3 791.5,2276.5 793.5,2274.8 795.4,2273.2 797.2,2271.7 798.9,2270.3 800.4,2269" fill="none" stroke="#000" stroke-width="7.3" stroke-linecap="round" stroke-linejoin="round"/>
<polyline points="814.2,2259.2 815.5,2258.4 816.8,2257.7 818,2257.1 819.1,2256.5 820.2,2256 821.3,2255.6 822.4,2255.2 823.5,2254.9 824.7,2254.6 825.8,2254.3 826.7,2254.2 827.4,2254 828.1,2254 828.6,2254.1 829.1,2254.2 829.6,2254.4 830.1,2254.6 830.3,2254.7" fill="none" stroke="#000" stroke-width="7.3" stroke-linecap="round" stroke-linejoin="round"/>
<polyline points="843.2,2265.4 844.6,2267 846.2,2268.9 847.9,2271 849.6,2273.2 851.4,2275.5 853.1,2277.8 854,2278.9" fill="none" stroke="#000" stroke-width="7.3" stroke-linecap="round" stroke-linejoin="round"/>
<polyline points="863.9,2292.6 864.5,2293.5 865.7,2295.3 866.6,2297.1 867.4,2298.8 867.9,2300.3 868.3,2301.7 868.7,2302.9 869,2303.8 869.3,2304.6 869.6,2305 870,2305.2 870.5,2305.1 871.2,2304.6 871.9,2303.8 872.3,2303.3" fill="none" stroke="#000" stroke-width="7.3" stroke-linecap="round" stroke-linejoin="round"/>
<polyline points="877.6,2287.3 878,2286 879,2283.1 880,2280.2 881.1,2277.2 882.1,2274.3 883,2271.4 883.2,2270.9" fill="none" stroke="#000" stroke-width="7.3" stroke-linecap="round" stroke-linejoin="round"/>
<polyline points="888.6,2254.9 889,2253.9 890.3,2250.9 891.7,2247.9 893.3,2244.8 894.9,2241.9 896.3,2239.4" fill="none" stroke="#000" stroke-width="7.3" stroke-linecap="round" stroke-linejoin="round"/>
<polyline points="906.3,2225.8 907.3,2224.7 909.1,2222.7 911.1,2220.5 913.2,2218.2 915.3,2215.9 917.4,2213.8 918.1,2213.1" fill="none" stroke="#000" stroke-width="7.3" stroke-linecap="round" stroke-linejoin="round"/>
<polyline points="930.7,2201.9 930.7,2201.9 932.9,2200.1 935.2,2198.2 937.6,2196.1 940.1,2194 942.4,2191.9 943.8,2190.7" fill="none" stroke="#000" stroke-width="7.3" stroke-linecap="round" stroke-linejoin="round"/>
<polyline points="956.7,2179.7 956.9,2179.6 959.2,2177.8 961.5,2175.9 964.1,2174 966.7,2172.1 969,2170.4 970.5,2169.3" fill="none" stroke="#000" stroke-width="7.3" stroke-linecap="round" stroke-linejoin="round"/>
<polyline points="984.6,2160 985.9,2159.2 988.2,2157.8 990.7,2156.3 993.1,2154.8 995.4,2153.4 997.5,2152 999.3,2150.9" fill="none" stroke="#000" stroke-width="7.3" stroke-linecap="round" stroke-linejoin="round"/>
<polyline points="1014.4,2143.3 1015.1,2143 1017.3,2142.3 1019.3,2141.7 1021.1,2141.2 1022.8,2140.9 1024.5,2140.6 1026,2140.4 1027.6,2140.3 1029.3,2140.3 1031,2140.3 1031.3,2140.4" fill="none" stroke="#000" stroke-width="7.3" stroke-linecap="round" stroke-linejoin="round"/>
<polyline points="1048,2142.8 1049.6,2143.3 1051.5,2143.9 1053.6,2144.5 1055.8,2145.2 1058.2,2145.9 1060.9,2146.6 1063.8,2147.4 1064.6,2147.6" fill="none" stroke="#000" stroke-width="7.3" stroke-linecap="round" stroke-linejoin="round"/>
<polyline points="1080.9,2151.9 1082.5,2152.3 1085.3,2153 1088.3,2153.8 1091.6,2154.6 1095.2,2155.4 1097.7,2156" fill="none" stroke="#000" stroke-width="7.3" stroke-linecap="round" stroke-linejoin="round"/>
<polyline points="1114.3,2159.4 1114.4,2159.4 1117.9,2160.1 1121.6,2160.8 1125.3,2161.5 1129.2,2162.3 1131.3,2162.7" fill="none" stroke="#000" stroke-width="7.3" stroke-linecap="round" stroke-linejoin="round"/>
<polyline points="1147.9,2166 1147.9,2166 1153.3,2167.1 1158.4,2168.2 1163.3,2169.3 1164.8,2169.6" fill="none" stroke="#000" stroke-width="7.3" stroke-linecap="round" stroke-linejoin="round"/>
<polyline points="1181.3,2173.2 1182.4,2173.4 1187.3,2174.5 1192.5,2175.6 1197.9,2176.8 1198.2,2176.8" fill="none" stroke="#000" stroke-width="7.3" stroke-linecap="round" stroke-linejoin="round"/>
<polyline points="1214.7,2180.3 1216.1,2180.6 1222,2181.9 1227.6,2183.1 1231.7,2183.9" fill="none" stroke="#000" stroke-width="7.3" stroke-linecap="round" stroke-linejoin="round"/>
<polyline points="1248.2,2187.4 1248.6,2187.5 1253.8,2188.6 1259.1,2189.6 1264.6,2190.7 1265.1,2190.8" fill="none" stroke="#000" stroke-width="7.3" stroke-linecap="round" stroke-linejoin="round"/>
<polyline points="1281.7,2194 1282.2,2194.1 1287.6,2195.1 1292.6,2195.9 1297.3,2196.7 1298.8,2196.9" fill="none" stroke="#000" stroke-width="7.3" stroke-linecap="round" stroke-linejoin="round"/>
<polyline points="1315.5,2199.6 1319,2200.2 1323.7,2201 1328.6,2201.8 1332.5,2202.5" fill="none" stroke="#000" stroke-width="7.3" stroke-linecap="round" stroke-linejoin="round"/>
<polyline points="1349.1,2205.7 1352.8,2206.4 1356.8,2207.2 1360.8,2208 1364.7,2208.9 1366.1,2209.2" fill="none" stroke="#000" stroke-width="7.3" stroke-linecap="round" stroke-linejoin="round"/>
<polyline points="1382.6,2212.8 1387,2213.8 1392.1,2215 1396.9,2216.1 1399.4,2216.7" fill="none" stroke="#000" stroke-width="7.3" stroke-linecap="round" stroke-linejoin="round"/>
<polyline points="1415.8,2220.8 1418,2221.3 1422.1,2222.4 1426.3,2223.5 1430.7,2224.6 1432.6,2225.1" fill="none" stroke="#000" stroke-width="7.3" stroke-linecap="round" stroke-linejoin="round"/>
<polyline points="1449,2229.3 1450.1,2229.6 1454.8,2230.8 1459.3,2231.9 1463.7,2233 1465.7,2233.6" fill="none" stroke="#000" stroke-width="7.3" stroke-linecap="round" stroke-linejoin="round"/>
<polyline points="1482,2238.1 1482.7,2238.3 1485.9,2239.3 1488.9,2240.4 1491.5,2241.5 1493.4,2242.4 1494.9,2243.3 1495.9,2244.2 1496.6,2245 1496.9,2245.5" fill="none" stroke="#000" stroke-width="7.3" stroke-linecap="round" stroke-linejoin="round"/>
<path d="M338.1 2961.5 C340 2951.2 341.1 2944.6 345 2925 C348.9 2905.4 349.9 2901.7 351.9 2892.5" fill="none" stroke="#000" stroke-width="7.3" stroke-linecap="round" stroke-linejoin="round" />
<path d="M362.2 2845.5 L371.8 2818.5" fill="none" stroke="#000" stroke-width="7.3" stroke-linecap="round" stroke-linejoin="round" />
<path d="M403.9 2743.6 L432 2692.2" fill="none" stroke="#000" stroke-width="7.3" stroke-linecap="round" stroke-linejoin="round" />
<path d="M478.9 2603.1 C482.6 2593.9 482.5 2584.2 492 2570.4 C501.5 2556.6 506.6 2559 512.4 2554.5" fill="none" stroke="#000" stroke-width="7.3" stroke-linecap="round" stroke-linejoin="round" />
<path d="M574.7 2476.8 C578.4 2470 577.9 2465.8 587.8 2452.9 C597.7 2440 603.4 2437.3 609.5 2431.2" fill="none" stroke="#000" stroke-width="7.3" stroke-linecap="round" stroke-linejoin="round" />
<path d="M665.6 2344 L702.6 2296.1" fill="none" stroke="#000" stroke-width="7.3" stroke-linecap="round" stroke-linejoin="round" />
<path d="M778.6 2230.3 L828.7 2191.1" fill="none" stroke="#000" stroke-width="7.3" stroke-linecap="round" stroke-linejoin="round" />
<path d="M909.4 2140.7 C919.3 2138.5 927 2134.7 944.3 2132.8 C961.6 2130.9 962.9 2133.7 970.3 2134.1" fill="none" stroke="#000" stroke-width="7.3" stroke-linecap="round" stroke-linejoin="round" />
<path d="M1068.7 2152.9 L1127.5 2178.2" fill="none" stroke="#000" stroke-width="7.3" stroke-linecap="round" stroke-linejoin="round" />
<path d="M1217 2226.5 L1269.3 2257.8" fill="none" stroke="#000" stroke-width="7.3" stroke-linecap="round" stroke-linejoin="round" />
<circle cx="390.4" cy="2775.3" r="3.4" fill="#000"/>
<circle cx="447.4" cy="2662.4" r="3.4" fill="#000"/>
<circle cx="463.5" cy="2632.6" r="3.4" fill="#000"/>
<circle cx="536.9" cy="2532.6" r="3.4" fill="#000"/>
<circle cx="554.6" cy="2503.8" r="3.4" fill="#000"/>
<circle cx="626.8" cy="2399.8" r="3.4" fill="#000"/>
<circle cx="646.2" cy="2371.9" r="3.4" fill="#000"/>
<circle cx="723.7" cy="2271.4" r="3.4" fill="#000"/>
<circle cx="750.7" cy="2251.4" r="3.4" fill="#000"/>
<circle cx="847.7" cy="2167.3" r="3.4" fill="#000"/>
<circle cx="876.9" cy="2150.9" r="3.4" fill="#000"/>
<circle cx="1004.9" cy="2132.4" r="3.4" fill="#000"/>
<circle cx="1038.1" cy="2143" r="3.4" fill="#000"/>
<circle cx="1157.7" cy="2192.6" r="3.4" fill="#000"/>
<circle cx="1186.9" cy="2208.5" r="3.4" fill="#000"/>
<circle cx="1295.4" cy="2278.9" r="3.4" fill="#000"/>
<circle cx="1321.9" cy="2301.5" r="3.4" fill="#000"/>
<path d="M330.1 3029.5 L351.9 2925.5" fill="none" stroke="#000" stroke-width="7.3" stroke-linecap="round" stroke-linejoin="round" />
<path d="M360.2 2889.5 C362.4 2883.4 361 2885.3 368 2868 C375 2850.7 380 2839.7 384.8 2828.5" fill="none" stroke="#000" stroke-width="7.3" stroke-linecap="round" stroke-linejoin="round" />
<path d="M403.9 2791.9 C407.6 2784 408.8 2778.7 417 2763.9 C425.2 2749.1 428.3 2746.5 432.8 2739.6" fill="none" stroke="#000" stroke-width="7.3" stroke-linecap="round" stroke-linejoin="round" />
<path d="M458 2718.8 C460.1 2712.2 454 2707.2 465.4 2695.6 C476.8 2684 488.9 2682.9 498.2 2677.8" fill="none" stroke="#000" stroke-width="7.3" stroke-linecap="round" stroke-linejoin="round" />
<path d="M528.5 2666.9 C535.9 2663.7 542.4 2666.5 554.6 2655.7 C566.8 2644.9 566.7 2636.3 571.4 2628.6" fill="none" stroke="#000" stroke-width="7.3" stroke-linecap="round" stroke-linejoin="round" />
<path d="M590.9 2603.2 C594.6 2599.3 591.2 2599.6 603.9 2589.3 C616.6 2579 626.8 2573.2 635.8 2566.9" fill="none" stroke="#000" stroke-width="7.3" stroke-linecap="round" stroke-linejoin="round" />
<path d="M667.3 2550.3 L716.3 2516.7" fill="none" stroke="#000" stroke-width="7.3" stroke-linecap="round" stroke-linejoin="round" />
<path d="M739 2493.7 C741.9 2492.4 742.6 2494.4 749.3 2489.1 C756 2483.8 755.1 2481.9 762.6 2474.9 C770.1 2467.9 767.4 2468.6 775.9 2464.4 C784.4 2460.2 787.8 2461.3 792.5 2460" fill="none" stroke="#000" stroke-width="7.3" stroke-linecap="round" stroke-linejoin="round" />
<path d="M819.5 2446.2 C823.2 2444.6 824.2 2446 832.8 2440.7 C841.4 2435.4 841.3 2432.8 849.9 2427.4 C858.5 2422 855.7 2424.2 863.2 2421.7 C870.7 2419.2 872.7 2419.3 876.5 2418.4" fill="none" stroke="#000" stroke-width="7.3" stroke-linecap="round" stroke-linejoin="round" />
<path d="M903.5 2401 L956.8 2371.5" fill="none" stroke="#000" stroke-width="7.3" stroke-linecap="round" stroke-linejoin="round" />
<path d="M1000.1 2357.5 C1005.6 2355.7 1006.6 2351.7 1019.5 2351.1 C1032.4 2350.5 1038.2 2354.2 1045.6 2355.4" fill="none" stroke="#000" stroke-width="7.3" stroke-linecap="round" stroke-linejoin="round" />
<path d="M1068 2384.7 C1071.8 2386 1070.6 2390.6 1081.6 2389.3 C1092.6 2388 1094.7 2386 1106.9 2380 C1119.1 2374 1119.6 2371.6 1124.6 2368.3" fill="none" stroke="#000" stroke-width="7.3" stroke-linecap="round" stroke-linejoin="round" />
<path d="M1157.3 2354.2 L1217.5 2342.3" fill="none" stroke="#000" stroke-width="7.3" stroke-linecap="round" stroke-linejoin="round" />
<path d="M1250.3 2337.6 C1258.9 2334.5 1268.5 2328.6 1280.8 2326.7 C1293.1 2324.8 1289.9 2329.8 1293.5 2331" fill="none" stroke="#000" stroke-width="7.3" stroke-linecap="round" stroke-linejoin="round" />
<path d="M1290.1 2317.9 L1351.1 2312.1" fill="none" stroke="#000" stroke-width="7.3" stroke-linecap="round" stroke-linejoin="round" />
<path d="M1400.8 2322.5 C1404.4 2323.7 1402.6 2327.9 1413.6 2326.7 C1424.6 2325.5 1432.3 2320.5 1439.7 2318.1" fill="none" stroke="#000" stroke-width="7.3" stroke-linecap="round" stroke-linejoin="round" />
<path d="M1471.8 2306.4 L1534.9 2295.3" fill="none" stroke="#000" stroke-width="7.3" stroke-linecap="round" stroke-linejoin="round" />
<path d="M1562.9 2287.9 L1628.8 2276.8" fill="none" stroke="#000" stroke-width="7.3" stroke-linecap="round" stroke-linejoin="round" />
<path d="M1659.7 2270.9 L1721.3 2257.7" fill="none" stroke="#000" stroke-width="7.3" stroke-linecap="round" stroke-linejoin="round" />
<path d="M325.7 3059.2 C328.4 3053.4 333.9 3041.6 339 3030 C344.1 3018.4 347.4 3012 351 3001 C354.6 2990 355 2984.2 357 2975 C359 2965.8 358.3 2964.3 361 2955 C363.7 2945.7 367.7 2938.3 370.7 2928.5 C373.7 2918.7 373.9 2914.9 376 2906 C378.1 2897.1 379 2893 381 2884 C383 2875 384 2870.6 386 2861 C388 2851.4 388.6 2844.3 391 2836 C393.4 2827.7 394.9 2825.3 398.1 2819.7 C401.3 2814.1 403.2 2813.2 406.9 2808.2 C410.6 2803.2 403.2 2807.6 416.7 2794.5 C430.2 2781.4 458.7 2759.9 474.3 2742.8 C489.9 2725.7 488.9 2717.7 494.5 2708.8 C500.1 2699.9 495.5 2709.8 502.5 2698.3 C509.5 2686.8 521.6 2664.8 529.5 2651.5 C537.4 2638.2 536.7 2640.2 541.9 2631.9 C547.1 2623.6 550.8 2619.3 555.7 2610.2 C560.6 2601.1 548.7 2595.5 566.5 2586.4 C584.3 2577.3 611.1 2572.6 644.5 2564.5 C677.9 2556.4 703.1 2560.2 733.5 2546 C763.9 2531.8 778.4 2507.9 796.4 2493.7 C814.4 2479.5 812 2482.9 823.4 2475.2 C834.8 2467.5 841.1 2464.6 853.3 2455.2 C865.5 2445.8 871.8 2438.2 884.6 2428.2 C897.4 2418.2 893 2414.4 917.4 2405.4 C941.8 2396.4 966.8 2390.6 1006.5 2383 C1046.2 2375.4 1074.3 2367.2 1115.8 2367.3 C1157.3 2367.4 1183.5 2385.2 1213.8 2383.7 C1244.1 2382.2 1243 2369.1 1267.5 2359.9 C1292 2350.7 1311.3 2346.6 1336.1 2337.8 C1360.9 2329 1367.6 2324.3 1391.5 2315.7 C1415.4 2307.1 1431.8 2301.5 1455.7 2295 C1479.6 2288.5 1488.4 2283.3 1511.1 2283 C1533.8 2282.7 1539.9 2286.9 1569.2 2293.6 C1598.5 2300.3 1623 2307 1657.8 2316.5 C1692.6 2326 1710.2 2327.9 1743.2 2341.3 C1776.2 2354.7 1807 2375 1822.9 2383.4" fill="none" stroke="#000" stroke-width="6.8" stroke-linecap="round" stroke-linejoin="round" stroke-dasharray="0.01 17.2" stroke-dashoffset="8"/>
<path d="M315.4 3048.9L335.9 3069.4M315.4 3069.4L335.9 3048.9" stroke="#000" stroke-width="2.6" stroke-linecap="butt" fill="none"/>
<path d="M328.8 3019.8L349.2 3040.2M328.8 3040.2L349.2 3019.8" stroke="#000" stroke-width="2.6" stroke-linecap="butt" fill="none"/>
<path d="M340.8 2990.8L361.2 3011.2M340.8 3011.2L361.2 2990.8" stroke="#000" stroke-width="2.6" stroke-linecap="butt" fill="none"/>
<path d="M346.8 2964.8L367.2 2985.2M346.8 2985.2L367.2 2964.8" stroke="#000" stroke-width="2.6" stroke-linecap="butt" fill="none"/>
<path d="M350.8 2944.8L371.2 2965.2M350.8 2965.2L371.2 2944.8" stroke="#000" stroke-width="2.6" stroke-linecap="butt" fill="none"/>
<path d="M360.4 2918.2L380.9 2938.8M360.4 2938.8L380.9 2918.2" stroke="#000" stroke-width="2.6" stroke-linecap="butt" fill="none"/>
<path d="M365.8 2895.8L386.2 2916.2M365.8 2916.2L386.2 2895.8" stroke="#000" stroke-width="2.6" stroke-linecap="butt" fill="none"/>
<path d="M370.8 2873.8L391.2 2894.2M370.8 2894.2L391.2 2873.8" stroke="#000" stroke-width="2.6" stroke-linecap="butt" fill="none"/>
<path d="M375.8 2850.8L396.2 2871.2M375.8 2871.2L396.2 2850.8" stroke="#000" stroke-width="2.6" stroke-linecap="butt" fill="none"/>
<path d="M380.8 2825.8L401.2 2846.2M380.8 2846.2L401.2 2825.8" stroke="#000" stroke-width="2.6" stroke-linecap="butt" fill="none"/>
<path d="M387.9 2809.4L408.4 2829.9M387.9 2829.9L408.4 2809.4" stroke="#000" stroke-width="2.6" stroke-linecap="butt" fill="none"/>
<path d="M396.6 2797.9L417.1 2818.4M396.6 2818.4L417.1 2797.9" stroke="#000" stroke-width="2.6" stroke-linecap="butt" fill="none"/>
<path d="M406.4 2784.2L426.9 2804.8M406.4 2804.8L426.9 2784.2" stroke="#000" stroke-width="2.6" stroke-linecap="butt" fill="none"/>
<path d="M464.1 2732.6L484.6 2753.1M464.1 2753.1L484.6 2732.6" stroke="#000" stroke-width="2.6" stroke-linecap="butt" fill="none"/>
<path d="M484.2 2698.6L504.8 2719.1M484.2 2719.1L504.8 2698.6" stroke="#000" stroke-width="2.6" stroke-linecap="butt" fill="none"/>
<path d="M492.2 2688.1L512.8 2708.6M492.2 2708.6L512.8 2688.1" stroke="#000" stroke-width="2.6" stroke-linecap="butt" fill="none"/>
<path d="M519.2 2641.2L539.8 2661.8M519.2 2661.8L539.8 2641.2" stroke="#000" stroke-width="2.6" stroke-linecap="butt" fill="none"/>
<path d="M531.6 2621.7L552.1 2642.2M531.6 2642.2L552.1 2621.7" stroke="#000" stroke-width="2.6" stroke-linecap="butt" fill="none"/>
<path d="M545.5 2599.9L566 2620.4M545.5 2620.4L566 2599.9" stroke="#000" stroke-width="2.6" stroke-linecap="butt" fill="none"/>
<path d="M556.2 2576.2L576.8 2596.7M556.2 2596.7L576.8 2576.2" stroke="#000" stroke-width="2.6" stroke-linecap="butt" fill="none"/>
<path d="M634.2 2554.2L654.8 2574.8M634.2 2574.8L654.8 2554.2" stroke="#000" stroke-width="2.6" stroke-linecap="butt" fill="none"/>
<path d="M723.2 2535.8L743.8 2556.2M723.2 2556.2L743.8 2535.8" stroke="#000" stroke-width="2.6" stroke-linecap="butt" fill="none"/>
<path d="M786.1 2483.4L806.6 2503.9M786.1 2503.9L806.6 2483.4" stroke="#000" stroke-width="2.6" stroke-linecap="butt" fill="none"/>
<path d="M813.1 2464.9L833.6 2485.4M813.1 2485.4L833.6 2464.9" stroke="#000" stroke-width="2.6" stroke-linecap="butt" fill="none"/>
<path d="M843 2444.9L863.5 2465.4M843 2465.4L863.5 2444.9" stroke="#000" stroke-width="2.6" stroke-linecap="butt" fill="none"/>
<path d="M874.4 2417.9L894.9 2438.4M874.4 2438.4L894.9 2417.9" stroke="#000" stroke-width="2.6" stroke-linecap="butt" fill="none"/>
<path d="M907.1 2395.2L927.6 2415.7M907.1 2415.7L927.6 2395.2" stroke="#000" stroke-width="2.6" stroke-linecap="butt" fill="none"/>
<path d="M996.2 2372.8L1016.8 2393.2M996.2 2393.2L1016.8 2372.8" stroke="#000" stroke-width="2.6" stroke-linecap="butt" fill="none"/>
<path d="M1105.5 2357.1L1126 2377.6M1105.5 2377.6L1126 2357.1" stroke="#000" stroke-width="2.6" stroke-linecap="butt" fill="none"/>
<path d="M1203.5 2373.4L1224 2393.9M1203.5 2393.9L1224 2373.4" stroke="#000" stroke-width="2.6" stroke-linecap="butt" fill="none"/>
<path d="M1257.2 2349.7L1277.8 2370.2M1257.2 2370.2L1277.8 2349.7" stroke="#000" stroke-width="2.6" stroke-linecap="butt" fill="none"/>
<path d="M1325.8 2327.6L1346.3 2348.1M1325.8 2348.1L1346.3 2327.6" stroke="#000" stroke-width="2.6" stroke-linecap="butt" fill="none"/>
<path d="M1381.2 2305.4L1401.8 2325.9M1381.2 2325.9L1401.8 2305.4" stroke="#000" stroke-width="2.6" stroke-linecap="butt" fill="none"/>
<path d="M1445.5 2284.8L1466 2305.2M1445.5 2305.2L1466 2284.8" stroke="#000" stroke-width="2.6" stroke-linecap="butt" fill="none"/>
<path d="M1500.8 2272.8L1521.3 2293.2M1500.8 2293.2L1521.3 2272.8" stroke="#000" stroke-width="2.6" stroke-linecap="butt" fill="none"/>
<path d="M1559 2283.3L1579.5 2303.8M1559 2303.8L1579.5 2283.3" stroke="#000" stroke-width="2.6" stroke-linecap="butt" fill="none"/>
<path d="M1647.5 2306.2L1668 2326.8M1647.5 2326.8L1668 2306.2" stroke="#000" stroke-width="2.6" stroke-linecap="butt" fill="none"/>
<path d="M1733 2331.1L1753.5 2351.6M1733 2351.6L1753.5 2331.1" stroke="#000" stroke-width="2.6" stroke-linecap="butt" fill="none"/>
<path d="M1812.7 2373.2L1833.2 2393.7M1812.7 2393.7L1833.2 2373.2" stroke="#000" stroke-width="2.6" stroke-linecap="butt" fill="none"/>
<polyline points="326,2986.9 326,2986.9" fill="none" stroke="#000" stroke-width="7.3" stroke-linecap="round" stroke-linejoin="round"/>
<polyline points="333.1,2971.6 333.9,2969.9 335.2,2967.1 336.4,2964.7 337.3,2962.8 338,2961.5 338.6,2960.5 339.4,2959.2 340.3,2957.8 340.8,2957" fill="none" stroke="#000" stroke-width="7.3" stroke-linecap="round" stroke-linejoin="round"/>
<polyline points="350.5,2942.2 351.2,2940.9 352.2,2939 353.3,2936.9 354.5,2934.7 355.6,2932.5 356.7,2930.3 357.7,2928.3 358.1,2927.6" fill="none" stroke="#000" stroke-width="7.3" stroke-linecap="round" stroke-linejoin="round"/>
<polyline points="366.4,2912 366.9,2911 368.1,2908.9 369.2,2906.8 370.2,2905 371,2903.5 371.6,2902.4 372.2,2901.2 373.1,2899.7 374.1,2897.8 374.2,2897.4" fill="none" stroke="#000" stroke-width="7.3" stroke-linecap="round" stroke-linejoin="round"/>
<polyline points="382.7,2881.9 383.6,2880.5 384.4,2879.3 385.3,2878.1 386.7,2876.4 388.4,2874.5 390.4,2872.3 392.5,2869.9 393.2,2869.2" fill="none" stroke="#000" stroke-width="7.3" stroke-linecap="round" stroke-linejoin="round"/>
<polyline points="405,2856 405.4,2855.5 406.3,2854.3 407.5,2852.7 408.9,2850.8 410.5,2848.7 412.2,2846.4 413.9,2844.1 414.9,2842.8" fill="none" stroke="#000" stroke-width="7.3" stroke-linecap="round" stroke-linejoin="round"/>
<polyline points="426.9,2829.9 426.9,2829.9 429.7,2827.9 432.9,2825.7 436.4,2823.3 440,2820.9 440.5,2820.6" fill="none" stroke="#000" stroke-width="7.3" stroke-linecap="round" stroke-linejoin="round"/>
<polyline points="455.1,2810.7 455.6,2810.3 457.2,2809.2 458.6,2808.1 460.3,2806.7 462.2,2805.1 464.3,2803.2 466.6,2801.2 467.8,2800.1" fill="none" stroke="#000" stroke-width="7.3" stroke-linecap="round" stroke-linejoin="round"/>
<polyline points="481.4,2788.8 482.3,2788.2 484.6,2786.7 487.5,2784.9 490.9,2782.9 494.5,2780.7 495.4,2780.1" fill="none" stroke="#000" stroke-width="7.3" stroke-linecap="round" stroke-linejoin="round"/>
<polyline points="510.6,2770.9 511.7,2770.2 514.1,2768.7 515.7,2767.6 517.1,2766.5 519,2765.2 521.1,2763.5 523.4,2761.6 523.9,2761.2" fill="none" stroke="#000" stroke-width="7.3" stroke-linecap="round" stroke-linejoin="round"/>
<polyline points="537.3,2749.7 538.5,2748.6 539.5,2747.5 540.3,2746.4 541.2,2744.8 542.3,2742.9 543.3,2740.7 544.5,2738.3 545.6,2735.9 545.7,2735.7" fill="none" stroke="#000" stroke-width="7.3" stroke-linecap="round" stroke-linejoin="round"/>
<polyline points="555,2720.7 556.7,2719 559.2,2716.7 561.8,2714.3 564.6,2711.7 567,2709.4" fill="none" stroke="#000" stroke-width="7.3" stroke-linecap="round" stroke-linejoin="round"/>
<polyline points="579.6,2697.1 580.3,2696.2 582.1,2694.1 584,2691.7 586.1,2689.1 588.2,2686.4 589.9,2684.2" fill="none" stroke="#000" stroke-width="7.3" stroke-linecap="round" stroke-linejoin="round"/>
<polyline points="601.1,2670.4 602.4,2669 603.9,2667.4 605.3,2665.8 606.8,2664.2 608.2,2662.7 609.5,2661.2 610.8,2659.8 611.8,2658.6 612.2,2658.2" fill="none" stroke="#000" stroke-width="7.3" stroke-linecap="round" stroke-linejoin="round"/>
<polyline points="623.4,2644.5 625.4,2642.1 627.6,2639.4 629.7,2636.9 631.5,2634.7 633.1,2632.9 634,2631.9" fill="none" stroke="#000" stroke-width="7.3" stroke-linecap="round" stroke-linejoin="round"/>
<polyline points="646.9,2619.7 647.4,2619.2 650.1,2616.7 652.7,2614.3 655.2,2612 657.3,2610.1 659,2608.5" fill="none" stroke="#000" stroke-width="7.3" stroke-linecap="round" stroke-linejoin="round"/>
<polyline points="671.3,2595.8 672.9,2594.1 674.5,2592.4 676,2590.8 677.2,2589.5 678.2,2588.5 679.2,2587.4 680.7,2585.9 682.4,2584.1 682.7,2583.8" fill="none" stroke="#000" stroke-width="7.3" stroke-linecap="round" stroke-linejoin="round"/>
<polyline points="694.9,2571 695.3,2570.6 697.1,2568.7 698.7,2567.1 700,2565.8 701.4,2564.5 703.3,2562.6 705.6,2560.3 706.6,2559.4" fill="none" stroke="#000" stroke-width="7.3" stroke-linecap="round" stroke-linejoin="round"/>
<polyline points="719.3,2547.1 720.1,2546.4 722.9,2543.8 725.3,2541.6 727.4,2539.8 729,2538.5 730.6,2537.4 731.9,2536.5" fill="none" stroke="#000" stroke-width="7.3" stroke-linecap="round" stroke-linejoin="round"/>
<polyline points="747.1,2527.3 748.4,2526.6 751.8,2524.7 755,2522.9 758,2521.3 760.6,2520 761.6,2519.6" fill="none" stroke="#000" stroke-width="7.3" stroke-linecap="round" stroke-linejoin="round"/>
<polyline points="778.2,2513.5 779.5,2513 785.5,2511 791.8,2508.9 793.9,2508.2" fill="none" stroke="#000" stroke-width="7.3" stroke-linecap="round" stroke-linejoin="round"/>
<polyline points="810.6,2502.5 814.2,2501.2 817.9,2499.8 820.4,2498.7 822.4,2497.6 824.7,2496.2 825.5,2495.6" fill="none" stroke="#000" stroke-width="7.3" stroke-linecap="round" stroke-linejoin="round"/>
<polyline points="839.7,2485 841.2,2483.8 843.7,2481.8 845.9,2480 847.8,2478.5 849.3,2477.3 850.9,2476.1 852.6,2474.7" fill="none" stroke="#000" stroke-width="7.3" stroke-linecap="round" stroke-linejoin="round"/>
<polyline points="866.5,2463.7 867.9,2462.6 871,2460.2 873.9,2457.9 876.5,2455.9 878.6,2454.2 879.5,2453.6" fill="none" stroke="#000" stroke-width="7.3" stroke-linecap="round" stroke-linejoin="round"/>
<polyline points="893.8,2443.1 895.4,2442 898.6,2439.7 901.6,2437.5 904.5,2435.5 907,2433.7 907.2,2433.5" fill="none" stroke="#000" stroke-width="7.3" stroke-linecap="round" stroke-linejoin="round"/>
<polyline points="921.3,2422.8 922.3,2422 925.4,2419.7 928.4,2417.3 931.3,2415 934.1,2412.9 934.3,2412.7" fill="none" stroke="#000" stroke-width="7.3" stroke-linecap="round" stroke-linejoin="round"/>
<polyline points="948,2401.5 948.5,2401.1 951.4,2398.7 954.3,2396.2 957.3,2393.7 960.2,2391.3 960.6,2390.9" fill="none" stroke="#000" stroke-width="7.3" stroke-linecap="round" stroke-linejoin="round"/>
<polyline points="974.1,2379.3 974.3,2379.1 976.9,2376.9 979.7,2374.4 982.7,2371.9 985.6,2369.3 986.5,2368.5" fill="none" stroke="#000" stroke-width="7.3" stroke-linecap="round" stroke-linejoin="round"/>
<polyline points="1000.1,2357.2 1001.9,2355.8 1004.4,2353.9 1006.9,2352 1009.7,2350 1012.4,2347.9 1013.3,2347.3" fill="none" stroke="#000" stroke-width="7.3" stroke-linecap="round" stroke-linejoin="round"/>
<polyline points="1028,2337.4 1028.3,2337.2 1031.8,2335.2 1035.8,2332.9 1040.1,2330.4 1042.3,2329.2" fill="none" stroke="#000" stroke-width="7.3" stroke-linecap="round" stroke-linejoin="round"/>
<polyline points="1057.7,2320.5 1061.1,2318.6 1064,2316.9 1066,2315.7 1067.5,2314.6 1069,2313.1 1070.5,2311.4 1070.9,2310.9" fill="none" stroke="#000" stroke-width="7.3" stroke-linecap="round" stroke-linejoin="round"/>
<polyline points="1084.2,2299.3 1084.6,2299.1 1088.4,2297.3 1092.8,2295.9 1097.9,2294.8 1099.9,2294.5" fill="none" stroke="#000" stroke-width="7.3" stroke-linecap="round" stroke-linejoin="round"/>
<polyline points="1117.4,2292.3 1120.7,2291.9 1133.8,2290.4" fill="none" stroke="#000" stroke-width="7.3" stroke-linecap="round" stroke-linejoin="round"/>
<polyline points="1151.4,2288.5 1161.6,2287.4 1167.8,2286.7" fill="none" stroke="#000" stroke-width="7.3" stroke-linecap="round" stroke-linejoin="round"/>
<polyline points="1185.4,2284.9 1186,2284.9 1201.8,2283.2" fill="none" stroke="#000" stroke-width="7.3" stroke-linecap="round" stroke-linejoin="round"/>
<polyline points="1219.5,2281.5 1235.9,2279.9" fill="none" stroke="#000" stroke-width="7.3" stroke-linecap="round" stroke-linejoin="round"/>
<polyline points="1253.5,2278.2 1261.7,2277.4 1269.9,2276.7" fill="none" stroke="#000" stroke-width="7.3" stroke-linecap="round" stroke-linejoin="round"/>
<polyline points="1287.6,2275.1 1303.3,2273.8 1304,2273.7" fill="none" stroke="#000" stroke-width="7.3" stroke-linecap="round" stroke-linejoin="round"/>
<polyline points="1321.7,2272.6 1327.3,2272.3 1333.5,2272.7 1338.1,2273.6" fill="none" stroke="#000" stroke-width="7.3" stroke-linecap="round" stroke-linejoin="round"/>
<polyline points="1354.9,2279 1358.4,2280.4 1364.4,2283.1 1370,2285.6" fill="none" stroke="#000" stroke-width="7.3" stroke-linecap="round" stroke-linejoin="round"/>
<polyline points="1386.5,2291.9 1389.9,2292.6 1393.7,2292.6 1398.5,2291.4 1402.5,2290" fill="none" stroke="#000" stroke-width="7.3" stroke-linecap="round" stroke-linejoin="round"/>
<polyline points="1419,2283.5 1423.9,2281.5 1434.2,2277" fill="none" stroke="#000" stroke-width="7.3" stroke-linecap="round" stroke-linejoin="round"/>
<polyline points="1450.3,2269.8 1457.1,2266.8 1465.4,2263.1" fill="none" stroke="#000" stroke-width="7.3" stroke-linecap="round" stroke-linejoin="round"/>
<polyline points="1481.5,2255.8 1486.4,2253.7 1493.3,2250.8 1496.8,2249.5" fill="none" stroke="#000" stroke-width="7.3" stroke-linecap="round" stroke-linejoin="round"/>
<polyline points="1513.8,2244.9 1518.8,2243.8 1525.3,2242.4 1530,2241.5" fill="none" stroke="#000" stroke-width="7.3" stroke-linecap="round" stroke-linejoin="round"/>
<polyline points="1547.4,2238.5 1550.3,2238 1555.3,2237.4 1559.4,2236.9 1562.5,2236.8 1563.8,2236.9" fill="none" stroke="#000" stroke-width="7.3" stroke-linecap="round" stroke-linejoin="round"/>
<polyline points="1581.2,2240.1 1584.3,2240.8 1589.8,2242.2 1595.3,2243.7 1597.2,2244.2" fill="none" stroke="#000" stroke-width="7.3" stroke-linecap="round" stroke-linejoin="round"/>
<polyline points="1614.1,2249.3 1615.1,2249.6 1617.1,2250.4 1619.6,2251.6 1622.5,2253.1 1625.6,2254.7 1628.8,2256.6 1628.9,2256.6" fill="none" stroke="#000" stroke-width="7.3" stroke-linecap="round" stroke-linejoin="round"/>
<polyline points="1644.1,2265.7 1646.2,2267 1647.8,2268.1 1649.4,2269.3 1651.7,2271.1 1654.3,2273.3 1657.2,2275.7" fill="none" stroke="#000" stroke-width="7.3" stroke-linecap="round" stroke-linejoin="round"/>
<polyline points="1670.7,2287.2 1672.7,2288.9 1674.9,2290.8" fill="none" stroke="#000" stroke-width="7.3" stroke-linecap="round" stroke-linejoin="round"/>
<circle cx="325.7" cy="3059.2" r="11.9" fill="#000"/>
<circle cx="324.8" cy="2989.5" r="11.9" fill="#000"/>
<circle cx="338" cy="2961.5" r="11.9" fill="#000"/>
<circle cx="349" cy="2945" r="11.9" fill="#000"/>
<circle cx="360" cy="2924" r="11.9" fill="#000"/>
<circle cx="371.6" cy="2902.4" r="11.9" fill="#000"/>
<circle cx="384.4" cy="2879.3" r="11.9" fill="#000"/>
<circle cx="405.4" cy="2855.5" r="11.9" fill="#000"/>
<circle cx="423.2" cy="2832.7" r="11.9" fill="#000"/>
<circle cx="457.2" cy="2809.2" r="11.9" fill="#000"/>
<circle cx="480.7" cy="2789.3" r="11.9" fill="#000"/>
<circle cx="515.7" cy="2767.6" r="11.9" fill="#000"/>
<circle cx="539.5" cy="2747.5" r="11.9" fill="#000"/>
<circle cx="551.9" cy="2724" r="11.9" fill="#000"/>
<circle cx="577.7" cy="2699.3" r="11.9" fill="#000"/>
<circle cx="598" cy="2674" r="11.9" fill="#000"/>
<circle cx="612.7" cy="2657.6" r="11.9" fill="#000"/>
<circle cx="634.3" cy="2631.6" r="11.9" fill="#000"/>
<circle cx="660.2" cy="2607.3" r="11.9" fill="#000"/>
<circle cx="678.2" cy="2588.5" r="11.9" fill="#000"/>
<circle cx="700" cy="2565.8" r="11.9" fill="#000"/>
<circle cx="729" cy="2538.5" r="11.9" fill="#000"/>
<circle cx="762.8" cy="2519" r="11.9" fill="#000"/>
<circle cx="820.4" cy="2498.7" r="11.9" fill="#000"/>
<circle cx="849.3" cy="2477.3" r="11.9" fill="#000"/>
<circle cx="880.2" cy="2453" r="11.9" fill="#000"/>
<circle cx="910.6" cy="2431" r="11.9" fill="#000"/>
<circle cx="940" cy="2408.2" r="11.9" fill="#000"/>
<circle cx="968.6" cy="2384.1" r="11.9" fill="#000"/>
<circle cx="996.6" cy="2359.9" r="11.9" fill="#000"/>
<circle cx="1023.6" cy="2340" r="11.9" fill="#000"/>
<circle cx="1066" cy="2315.7" r="11.9" fill="#000"/>
<circle cx="1097.9" cy="2294.8" r="11.9" fill="#000"/>
<circle cx="1327.3" cy="2272.3" r="11.9" fill="#000"/>
<circle cx="1393.7" cy="2292.6" r="11.9" fill="#000"/>
<circle cx="1498" cy="2249" r="11.9" fill="#000"/>
<circle cx="1562.5" cy="2236.8" r="11.9" fill="#000"/>
<circle cx="1615.1" cy="2249.6" r="11.9" fill="#000"/>
<circle cx="1647.8" cy="2268.1" r="11.9" fill="#000"/>
<circle cx="1677.7" cy="2293.2" r="11.9" fill="#000"/>
<path d="M326.2 3061.5 C339.2 2991.8 346.2 2941.7 374.8 2800 C403.4 2658.3 415.6 2612.1 433.4 2530.1 C451.2 2448.1 436.9 2513.4 441.5 2492.6 C446.1 2471.8 446 2471.1 450.6 2452.2 C455.2 2433.3 454.4 2436.4 458.7 2421.8 C463 2407.2 462.7 2407.8 466.8 2397.5 C470.9 2387.2 470.1 2389.8 473.9 2383.3 C477.7 2376.8 476.4 2378.9 481 2373.2 C485.6 2367.5 484.6 2368 491.1 2362.1 C497.6 2356.2 497.1 2356.4 505.2 2351 C513.3 2345.6 511.7 2346.8 521.4 2341.9 C531.1 2337 530.9 2336.8 541.7 2332.7 C552.5 2328.6 552.5 2329.3 561.9 2326.7 C571.3 2324.1 566.3 2325.4 577.1 2323 C587.9 2320.6 590.3 2320.1 602.4 2317.6 C614.5 2315.1 611.8 2315.7 622.6 2313.5 C633.4 2311.3 632.1 2311.8 642.9 2309.5 C653.7 2307.2 652.3 2306.9 663.1 2305 C673.9 2303.1 672.6 2303.2 683.4 2302.4 C694.2 2301.6 693.3 2302.2 703.6 2302 C713.9 2301.8 711 2301.8 722 2301.8 C733 2301.8 724.2 2301.9 745 2302 C765.8 2302.1 758.7 2302.1 800 2302.3 C841.3 2302.5 845.7 2302.6 900 2302.8 C954.3 2303 975.9 2303.1 1003.5 2303.2" fill="none" stroke="#fe0000" stroke-width="8.2" stroke-linecap="round" stroke-linejoin="round"/>
<rect x="1856.5" y="1679.8" width="466.7" height="1009.5" fill="#c3c3c3" stroke="#1c1c1c" stroke-width="2.3"/>
<circle cx="1937.9" cy="1711.6" r="3.9" fill="#000"/>
<circle cx="1955.4" cy="1711.6" r="3.9" fill="#000"/>
<circle cx="1972.9" cy="1711.6" r="3.9" fill="#000"/>
<circle cx="2007.9" cy="1711.6" r="3.9" fill="#000"/>
<circle cx="2025.4" cy="1711.6" r="3.9" fill="#000"/>
<circle cx="2042.9" cy="1711.6" r="3.9" fill="#000"/>
<path d="M1981 1700.6L2003 1722.6M1981 1722.6L2003 1700.6" stroke="#000" stroke-width="3" stroke-linecap="butt" fill="none"/>
<path d="M1938.1 1855.6 L1954.5 1855.6" fill="none" stroke="#000" stroke-width="7.3" stroke-linecap="round" stroke-linejoin="round" />
<path d="M1973.1 1855.6 L1990 1855.6" fill="none" stroke="#000" stroke-width="7.3" stroke-linecap="round" stroke-linejoin="round" />
<path d="M2007.1 1855.6 L2023.7 1855.6" fill="none" stroke="#000" stroke-width="7.3" stroke-linecap="round" stroke-linejoin="round" />
<path d="M2042.6 1855.6 L2051.7 1855.6" fill="none" stroke="#000" stroke-width="7.3" stroke-linecap="round" stroke-linejoin="round" />
<path d="M1938.1 2147 L1954.5 2147" fill="none" stroke="#000" stroke-width="7.3" stroke-linecap="round" stroke-linejoin="round" />
<path d="M1973.1 2147 L1990 2147" fill="none" stroke="#000" stroke-width="7.3" stroke-linecap="round" stroke-linejoin="round" />
<path d="M2007.1 2147 L2023.7 2147" fill="none" stroke="#000" stroke-width="7.3" stroke-linecap="round" stroke-linejoin="round" />
<path d="M2042.6 2147 L2051.7 2147" fill="none" stroke="#000" stroke-width="7.3" stroke-linecap="round" stroke-linejoin="round" />
<circle cx="1992" cy="1855.6" r="12.2" fill="#000"/>
<path d="M1938.1 2001.3 L1998.2 2001.3" fill="none" stroke="#000" stroke-width="7.3" stroke-linecap="round" stroke-linejoin="round" />
<circle cx="2033.2" cy="2001.3" r="4.3" fill="#000"/>
<path d="M1938.1 2291.6 L1998.2 2291.6" fill="none" stroke="#000" stroke-width="7.3" stroke-linecap="round" stroke-linejoin="round" />
<path d="M2032.6 2291.6 L2051.7 2291.6" fill="none" stroke="#000" stroke-width="7.3" stroke-linecap="round" stroke-linejoin="round" />
<circle cx="1937.9" cy="2436" r="3.9" fill="#000"/>
<circle cx="1955.4" cy="2436" r="3.9" fill="#000"/>
<circle cx="1972.9" cy="2436" r="3.9" fill="#000"/>
<circle cx="1990.4" cy="2436" r="3.9" fill="#000"/>
<circle cx="2007.9" cy="2436" r="3.9" fill="#000"/>
<circle cx="2025.4" cy="2436" r="3.9" fill="#000"/>
<circle cx="2042.9" cy="2436" r="3.9" fill="#000"/>
<path d="M1938 2580.4 L2050.5 2580.4" fill="none" stroke="#fe0000" stroke-width="8" stroke-linecap="round" stroke-linejoin="round" />
<text x="2063" y="1736.6" font-family='"Liberation Serif", serif' font-size="72" font-weight="normal" text-anchor="start" fill="#000" >NIII-6</text>
<text x="2063" y="1880.6" font-family='"Liberation Serif", serif' font-size="72" font-weight="normal" text-anchor="start" fill="#000" >NIII-5</text>
<text x="2063" y="2025.5" font-family='"Liberation Serif", serif' font-size="72" font-weight="normal" text-anchor="start" fill="#000" >NIII-4</text>
<text x="2063" y="2170.8" font-family='"Liberation Serif", serif' font-size="72" font-weight="normal" text-anchor="start" fill="#000" >NIII-3</text>
<text x="2063" y="2315" font-family='"Liberation Serif", serif' font-size="72" font-weight="normal" text-anchor="start" fill="#000" >NIII-2</text>
<text x="2063" y="2459.7" font-family='"Liberation Serif", serif' font-size="72" font-weight="normal" text-anchor="start" fill="#000" >NIII-1</text>
<text x="2063" y="2602.7" font-family='"Liberation Serif", serif' font-size="72" font-weight="normal" text-anchor="start" fill="#000" >FEM</text>
<text x="2063" y="2682" font-family='"Liberation Serif", serif' font-size="72" font-weight="normal" text-anchor="start" fill="#000" >model</text>
<text transform="translate(113.4,2532.5) rotate(-90)" font-family='"Liberation Serif", serif' font-size="71.5" fill="#000">Load F <tspan font-family='"Liberation Sans", sans-serif' font-size="67">[kN]</tspan></text>
<text x="926.3" y="3279.3" font-family='"Liberation Serif", serif' font-size="70" font-weight="normal" text-anchor="start" fill="#000" >Deflection</text>
<text x="1251" y="3279.3" font-family='"Liberation Serif", serif' font-size="70" font-weight="normal" text-anchor="start" fill="#000" >f</text>
<text x="1270" y="3292.6" font-family='"Liberation Serif", serif' font-size="46" font-weight="normal" text-anchor="start" fill="#000" >u</text>
<text x="1313.7" y="3279.3" font-family='"Liberation Sans", sans-serif' font-size="69" font-weight="normal" text-anchor="start" fill="#000" textLength="163" lengthAdjust="spacingAndGlyphs">[mm]</text>
<text x="1103" y="3414" font-family='"Liberation Serif", serif' font-size="98" font-weight="bold" text-anchor="start" fill="#000" textLength="112" lengthAdjust="spacingAndGlyphs">(c)</text>
</g>
</svg>
</body>
</html>
